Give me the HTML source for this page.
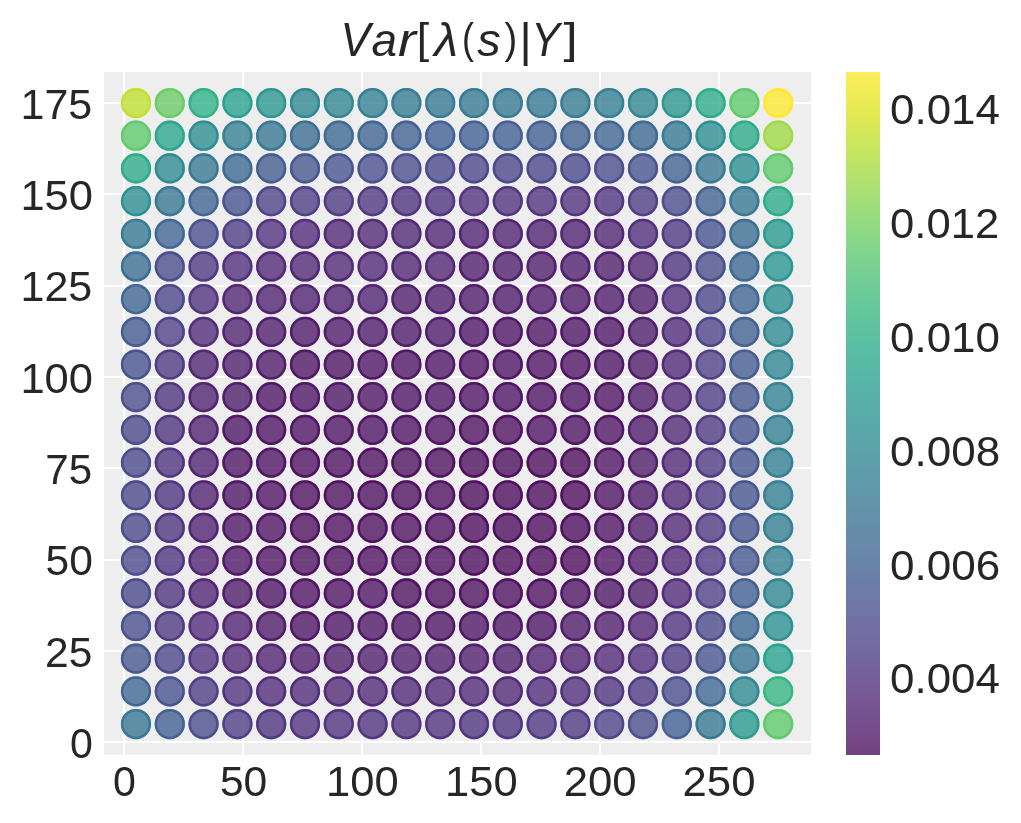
<!DOCTYPE html><html><head><meta charset="utf-8"><style>html,body{margin:0;padding:0;background:#fff;width:1021px;height:823px;overflow:hidden}svg{display:block;will-change:transform}</style></head><body><svg width="1021" height="823" viewBox="0 0 1021 823"><defs><linearGradient id="cb" x1="0" y1="0" x2="0" y2="1"><stop offset="0.0000" stop-color="#fde725"/><stop offset="0.0312" stop-color="#ece51b"/><stop offset="0.0625" stop-color="#d8e219"/><stop offset="0.0938" stop-color="#c2df23"/><stop offset="0.1250" stop-color="#addc30"/><stop offset="0.1562" stop-color="#98d83e"/><stop offset="0.1875" stop-color="#84d44b"/><stop offset="0.2188" stop-color="#70cf57"/><stop offset="0.2500" stop-color="#5ec962"/><stop offset="0.2812" stop-color="#4ec36b"/><stop offset="0.3125" stop-color="#3fbc73"/><stop offset="0.3438" stop-color="#32b67a"/><stop offset="0.3750" stop-color="#28ae80"/><stop offset="0.4062" stop-color="#22a785"/><stop offset="0.4375" stop-color="#1fa088"/><stop offset="0.4688" stop-color="#1f988b"/><stop offset="0.5000" stop-color="#21918c"/><stop offset="0.5312" stop-color="#23898e"/><stop offset="0.5625" stop-color="#26828e"/><stop offset="0.5938" stop-color="#297a8e"/><stop offset="0.6250" stop-color="#2c728e"/><stop offset="0.6562" stop-color="#2f6b8e"/><stop offset="0.6875" stop-color="#33638d"/><stop offset="0.7188" stop-color="#375b8d"/><stop offset="0.7500" stop-color="#3b528b"/><stop offset="0.7812" stop-color="#3e4989"/><stop offset="0.8125" stop-color="#424086"/><stop offset="0.8438" stop-color="#453781"/><stop offset="0.8750" stop-color="#472d7b"/><stop offset="0.9062" stop-color="#482374"/><stop offset="0.9375" stop-color="#48186a"/><stop offset="0.9688" stop-color="#470d60"/><stop offset="1.0000" stop-color="#440154"/></linearGradient></defs><rect x="104" y="72" width="707" height="683" fill="#eeeeee"/><rect x="123" y="72" width="2" height="683" fill="#ffffff"/><rect x="242" y="72" width="2" height="683" fill="#ffffff"/><rect x="361" y="72" width="2" height="683" fill="#ffffff"/><rect x="480" y="72" width="2" height="683" fill="#ffffff"/><rect x="599" y="72" width="2" height="683" fill="#ffffff"/><rect x="718" y="72" width="2" height="683" fill="#ffffff"/><rect x="104" y="741" width="707" height="2" fill="#ffffff"/><rect x="104" y="650" width="707" height="2" fill="#ffffff"/><rect x="104" y="559" width="707" height="2" fill="#ffffff"/><rect x="104" y="467" width="707" height="2" fill="#ffffff"/><rect x="104" y="376" width="707" height="2" fill="#ffffff"/><rect x="104" y="285" width="707" height="2" fill="#ffffff"/><rect x="104" y="193" width="707" height="2" fill="#ffffff"/><rect x="104" y="102" width="707" height="2" fill="#ffffff"/><circle cx="135.99" cy="724.03" r="15.1" fill="#2e6f8e" fill-opacity="0.75"/><circle cx="135.99" cy="724.03" r="13.85" fill="none" stroke="#2e6f8e" stroke-width="2.5" stroke-opacity="0.75"/><circle cx="169.79" cy="724.03" r="15.1" fill="#38588c" fill-opacity="0.75"/><circle cx="169.79" cy="724.03" r="13.85" fill="none" stroke="#38588c" stroke-width="2.5" stroke-opacity="0.75"/><circle cx="203.59" cy="724.03" r="15.1" fill="#414487" fill-opacity="0.75"/><circle cx="203.59" cy="724.03" r="13.85" fill="none" stroke="#414487" stroke-width="2.5" stroke-opacity="0.75"/><circle cx="237.39" cy="724.03" r="15.1" fill="#463480" fill-opacity="0.75"/><circle cx="237.39" cy="724.03" r="13.85" fill="none" stroke="#463480" stroke-width="2.5" stroke-opacity="0.75"/><circle cx="271.19" cy="724.03" r="15.1" fill="#472a7a" fill-opacity="0.75"/><circle cx="271.19" cy="724.03" r="13.85" fill="none" stroke="#472a7a" stroke-width="2.5" stroke-opacity="0.75"/><circle cx="304.99" cy="724.03" r="15.1" fill="#482878" fill-opacity="0.75"/><circle cx="304.99" cy="724.03" r="13.85" fill="none" stroke="#482878" stroke-width="2.5" stroke-opacity="0.75"/><circle cx="338.79" cy="724.03" r="15.1" fill="#482878" fill-opacity="0.75"/><circle cx="338.79" cy="724.03" r="13.85" fill="none" stroke="#482878" stroke-width="2.5" stroke-opacity="0.75"/><circle cx="372.59" cy="724.03" r="15.1" fill="#482878" fill-opacity="0.75"/><circle cx="372.59" cy="724.03" r="13.85" fill="none" stroke="#482878" stroke-width="2.5" stroke-opacity="0.75"/><circle cx="406.39" cy="724.03" r="15.1" fill="#482878" fill-opacity="0.75"/><circle cx="406.39" cy="724.03" r="13.85" fill="none" stroke="#482878" stroke-width="2.5" stroke-opacity="0.75"/><circle cx="440.19" cy="724.03" r="15.1" fill="#482878" fill-opacity="0.75"/><circle cx="440.19" cy="724.03" r="13.85" fill="none" stroke="#482878" stroke-width="2.5" stroke-opacity="0.75"/><circle cx="473.99" cy="724.03" r="15.1" fill="#472a7a" fill-opacity="0.75"/><circle cx="473.99" cy="724.03" r="13.85" fill="none" stroke="#472a7a" stroke-width="2.5" stroke-opacity="0.75"/><circle cx="507.79" cy="724.03" r="15.1" fill="#472a7a" fill-opacity="0.75"/><circle cx="507.79" cy="724.03" r="13.85" fill="none" stroke="#472a7a" stroke-width="2.5" stroke-opacity="0.75"/><circle cx="541.59" cy="724.03" r="15.1" fill="#472e7c" fill-opacity="0.75"/><circle cx="541.59" cy="724.03" r="13.85" fill="none" stroke="#472e7c" stroke-width="2.5" stroke-opacity="0.75"/><circle cx="575.39" cy="724.03" r="15.1" fill="#46307e" fill-opacity="0.75"/><circle cx="575.39" cy="724.03" r="13.85" fill="none" stroke="#46307e" stroke-width="2.5" stroke-opacity="0.75"/><circle cx="609.19" cy="724.03" r="15.1" fill="#443a83" fill-opacity="0.75"/><circle cx="609.19" cy="724.03" r="13.85" fill="none" stroke="#443a83" stroke-width="2.5" stroke-opacity="0.75"/><circle cx="642.99" cy="724.03" r="15.1" fill="#414487" fill-opacity="0.75"/><circle cx="642.99" cy="724.03" r="13.85" fill="none" stroke="#414487" stroke-width="2.5" stroke-opacity="0.75"/><circle cx="676.79" cy="724.03" r="15.1" fill="#38588c" fill-opacity="0.75"/><circle cx="676.79" cy="724.03" r="13.85" fill="none" stroke="#38588c" stroke-width="2.5" stroke-opacity="0.75"/><circle cx="710.59" cy="724.03" r="15.1" fill="#2d718e" fill-opacity="0.75"/><circle cx="710.59" cy="724.03" r="13.85" fill="none" stroke="#2d718e" stroke-width="2.5" stroke-opacity="0.75"/><circle cx="744.39" cy="724.03" r="15.1" fill="#1f958b" fill-opacity="0.75"/><circle cx="744.39" cy="724.03" r="13.85" fill="none" stroke="#1f958b" stroke-width="2.5" stroke-opacity="0.75"/><circle cx="778.19" cy="724.03" r="15.1" fill="#58c765" fill-opacity="0.75"/><circle cx="778.19" cy="724.03" r="13.85" fill="none" stroke="#58c765" stroke-width="2.5" stroke-opacity="0.75"/><circle cx="135.99" cy="691.35" r="15.1" fill="#355f8d" fill-opacity="0.75"/><circle cx="135.99" cy="691.35" r="13.85" fill="none" stroke="#355f8d" stroke-width="2.5" stroke-opacity="0.75"/><circle cx="169.79" cy="691.35" r="15.1" fill="#3e4989" fill-opacity="0.75"/><circle cx="169.79" cy="691.35" r="13.85" fill="none" stroke="#3e4989" stroke-width="2.5" stroke-opacity="0.75"/><circle cx="203.59" cy="691.35" r="15.1" fill="#463480" fill-opacity="0.75"/><circle cx="203.59" cy="691.35" r="13.85" fill="none" stroke="#463480" stroke-width="2.5" stroke-opacity="0.75"/><circle cx="237.39" cy="691.35" r="15.1" fill="#482878" fill-opacity="0.75"/><circle cx="237.39" cy="691.35" r="13.85" fill="none" stroke="#482878" stroke-width="2.5" stroke-opacity="0.75"/><circle cx="271.19" cy="691.35" r="15.1" fill="#482173" fill-opacity="0.75"/><circle cx="271.19" cy="691.35" r="13.85" fill="none" stroke="#482173" stroke-width="2.5" stroke-opacity="0.75"/><circle cx="304.99" cy="691.35" r="15.1" fill="#482173" fill-opacity="0.75"/><circle cx="304.99" cy="691.35" r="13.85" fill="none" stroke="#482173" stroke-width="2.5" stroke-opacity="0.75"/><circle cx="338.79" cy="691.35" r="15.1" fill="#481d6f" fill-opacity="0.75"/><circle cx="338.79" cy="691.35" r="13.85" fill="none" stroke="#481d6f" stroke-width="2.5" stroke-opacity="0.75"/><circle cx="372.59" cy="691.35" r="15.1" fill="#481d6f" fill-opacity="0.75"/><circle cx="372.59" cy="691.35" r="13.85" fill="none" stroke="#481d6f" stroke-width="2.5" stroke-opacity="0.75"/><circle cx="406.39" cy="691.35" r="15.1" fill="#481d6f" fill-opacity="0.75"/><circle cx="406.39" cy="691.35" r="13.85" fill="none" stroke="#481d6f" stroke-width="2.5" stroke-opacity="0.75"/><circle cx="440.19" cy="691.35" r="15.1" fill="#481d6f" fill-opacity="0.75"/><circle cx="440.19" cy="691.35" r="13.85" fill="none" stroke="#481d6f" stroke-width="2.5" stroke-opacity="0.75"/><circle cx="473.99" cy="691.35" r="15.1" fill="#481d6f" fill-opacity="0.75"/><circle cx="473.99" cy="691.35" r="13.85" fill="none" stroke="#481d6f" stroke-width="2.5" stroke-opacity="0.75"/><circle cx="507.79" cy="691.35" r="15.1" fill="#481d6f" fill-opacity="0.75"/><circle cx="507.79" cy="691.35" r="13.85" fill="none" stroke="#481d6f" stroke-width="2.5" stroke-opacity="0.75"/><circle cx="541.59" cy="691.35" r="15.1" fill="#482173" fill-opacity="0.75"/><circle cx="541.59" cy="691.35" r="13.85" fill="none" stroke="#482173" stroke-width="2.5" stroke-opacity="0.75"/><circle cx="575.39" cy="691.35" r="15.1" fill="#482475" fill-opacity="0.75"/><circle cx="575.39" cy="691.35" r="13.85" fill="none" stroke="#482475" stroke-width="2.5" stroke-opacity="0.75"/><circle cx="609.19" cy="691.35" r="15.1" fill="#472a7a" fill-opacity="0.75"/><circle cx="609.19" cy="691.35" r="13.85" fill="none" stroke="#472a7a" stroke-width="2.5" stroke-opacity="0.75"/><circle cx="642.99" cy="691.35" r="15.1" fill="#46307e" fill-opacity="0.75"/><circle cx="642.99" cy="691.35" r="13.85" fill="none" stroke="#46307e" stroke-width="2.5" stroke-opacity="0.75"/><circle cx="676.79" cy="691.35" r="15.1" fill="#414487" fill-opacity="0.75"/><circle cx="676.79" cy="691.35" r="13.85" fill="none" stroke="#414487" stroke-width="2.5" stroke-opacity="0.75"/><circle cx="710.59" cy="691.35" r="15.1" fill="#355f8d" fill-opacity="0.75"/><circle cx="710.59" cy="691.35" r="13.85" fill="none" stroke="#355f8d" stroke-width="2.5" stroke-opacity="0.75"/><circle cx="744.39" cy="691.35" r="15.1" fill="#25848e" fill-opacity="0.75"/><circle cx="744.39" cy="691.35" r="13.85" fill="none" stroke="#25848e" stroke-width="2.5" stroke-opacity="0.75"/><circle cx="778.19" cy="691.35" r="15.1" fill="#2cb17e" fill-opacity="0.75"/><circle cx="778.19" cy="691.35" r="13.85" fill="none" stroke="#2cb17e" stroke-width="2.5" stroke-opacity="0.75"/><circle cx="135.99" cy="658.67" r="15.1" fill="#3c4f8a" fill-opacity="0.75"/><circle cx="135.99" cy="658.67" r="13.85" fill="none" stroke="#3c4f8a" stroke-width="2.5" stroke-opacity="0.75"/><circle cx="169.79" cy="658.67" r="15.1" fill="#433e85" fill-opacity="0.75"/><circle cx="169.79" cy="658.67" r="13.85" fill="none" stroke="#433e85" stroke-width="2.5" stroke-opacity="0.75"/><circle cx="203.59" cy="658.67" r="15.1" fill="#482878" fill-opacity="0.75"/><circle cx="203.59" cy="658.67" r="13.85" fill="none" stroke="#482878" stroke-width="2.5" stroke-opacity="0.75"/><circle cx="237.39" cy="658.67" r="15.1" fill="#481d6f" fill-opacity="0.75"/><circle cx="237.39" cy="658.67" r="13.85" fill="none" stroke="#481d6f" stroke-width="2.5" stroke-opacity="0.75"/><circle cx="271.19" cy="658.67" r="15.1" fill="#481769" fill-opacity="0.75"/><circle cx="271.19" cy="658.67" r="13.85" fill="none" stroke="#481769" stroke-width="2.5" stroke-opacity="0.75"/><circle cx="304.99" cy="658.67" r="15.1" fill="#471365" fill-opacity="0.75"/><circle cx="304.99" cy="658.67" r="13.85" fill="none" stroke="#471365" stroke-width="2.5" stroke-opacity="0.75"/><circle cx="338.79" cy="658.67" r="15.1" fill="#471365" fill-opacity="0.75"/><circle cx="338.79" cy="658.67" r="13.85" fill="none" stroke="#471365" stroke-width="2.5" stroke-opacity="0.75"/><circle cx="372.59" cy="658.67" r="15.1" fill="#471365" fill-opacity="0.75"/><circle cx="372.59" cy="658.67" r="13.85" fill="none" stroke="#471365" stroke-width="2.5" stroke-opacity="0.75"/><circle cx="406.39" cy="658.67" r="15.1" fill="#471365" fill-opacity="0.75"/><circle cx="406.39" cy="658.67" r="13.85" fill="none" stroke="#471365" stroke-width="2.5" stroke-opacity="0.75"/><circle cx="440.19" cy="658.67" r="15.1" fill="#471365" fill-opacity="0.75"/><circle cx="440.19" cy="658.67" r="13.85" fill="none" stroke="#471365" stroke-width="2.5" stroke-opacity="0.75"/><circle cx="473.99" cy="658.67" r="15.1" fill="#471365" fill-opacity="0.75"/><circle cx="473.99" cy="658.67" r="13.85" fill="none" stroke="#471365" stroke-width="2.5" stroke-opacity="0.75"/><circle cx="507.79" cy="658.67" r="15.1" fill="#471365" fill-opacity="0.75"/><circle cx="507.79" cy="658.67" r="13.85" fill="none" stroke="#471365" stroke-width="2.5" stroke-opacity="0.75"/><circle cx="541.59" cy="658.67" r="15.1" fill="#481769" fill-opacity="0.75"/><circle cx="541.59" cy="658.67" r="13.85" fill="none" stroke="#481769" stroke-width="2.5" stroke-opacity="0.75"/><circle cx="575.39" cy="658.67" r="15.1" fill="#481769" fill-opacity="0.75"/><circle cx="575.39" cy="658.67" r="13.85" fill="none" stroke="#481769" stroke-width="2.5" stroke-opacity="0.75"/><circle cx="609.19" cy="658.67" r="15.1" fill="#481d6f" fill-opacity="0.75"/><circle cx="609.19" cy="658.67" r="13.85" fill="none" stroke="#481d6f" stroke-width="2.5" stroke-opacity="0.75"/><circle cx="642.99" cy="658.67" r="15.1" fill="#482475" fill-opacity="0.75"/><circle cx="642.99" cy="658.67" r="13.85" fill="none" stroke="#482475" stroke-width="2.5" stroke-opacity="0.75"/><circle cx="676.79" cy="658.67" r="15.1" fill="#46307e" fill-opacity="0.75"/><circle cx="676.79" cy="658.67" r="13.85" fill="none" stroke="#46307e" stroke-width="2.5" stroke-opacity="0.75"/><circle cx="710.59" cy="658.67" r="15.1" fill="#3e4c8a" fill-opacity="0.75"/><circle cx="710.59" cy="658.67" r="13.85" fill="none" stroke="#3e4c8a" stroke-width="2.5" stroke-opacity="0.75"/><circle cx="744.39" cy="658.67" r="15.1" fill="#2e6f8e" fill-opacity="0.75"/><circle cx="744.39" cy="658.67" r="13.85" fill="none" stroke="#2e6f8e" stroke-width="2.5" stroke-opacity="0.75"/><circle cx="778.19" cy="658.67" r="15.1" fill="#1e9c89" fill-opacity="0.75"/><circle cx="778.19" cy="658.67" r="13.85" fill="none" stroke="#1e9c89" stroke-width="2.5" stroke-opacity="0.75"/><circle cx="135.99" cy="625.98" r="15.1" fill="#404688" fill-opacity="0.75"/><circle cx="135.99" cy="625.98" r="13.85" fill="none" stroke="#404688" stroke-width="2.5" stroke-opacity="0.75"/><circle cx="169.79" cy="625.98" r="15.1" fill="#46307e" fill-opacity="0.75"/><circle cx="169.79" cy="625.98" r="13.85" fill="none" stroke="#46307e" stroke-width="2.5" stroke-opacity="0.75"/><circle cx="203.59" cy="625.98" r="15.1" fill="#482173" fill-opacity="0.75"/><circle cx="203.59" cy="625.98" r="13.85" fill="none" stroke="#482173" stroke-width="2.5" stroke-opacity="0.75"/><circle cx="237.39" cy="625.98" r="15.1" fill="#481769" fill-opacity="0.75"/><circle cx="237.39" cy="625.98" r="13.85" fill="none" stroke="#481769" stroke-width="2.5" stroke-opacity="0.75"/><circle cx="271.19" cy="625.98" r="15.1" fill="#471063" fill-opacity="0.75"/><circle cx="271.19" cy="625.98" r="13.85" fill="none" stroke="#471063" stroke-width="2.5" stroke-opacity="0.75"/><circle cx="304.99" cy="625.98" r="15.1" fill="#460b5e" fill-opacity="0.75"/><circle cx="304.99" cy="625.98" r="13.85" fill="none" stroke="#460b5e" stroke-width="2.5" stroke-opacity="0.75"/><circle cx="338.79" cy="625.98" r="15.1" fill="#460b5e" fill-opacity="0.75"/><circle cx="338.79" cy="625.98" r="13.85" fill="none" stroke="#460b5e" stroke-width="2.5" stroke-opacity="0.75"/><circle cx="372.59" cy="625.98" r="15.1" fill="#460b5e" fill-opacity="0.75"/><circle cx="372.59" cy="625.98" r="13.85" fill="none" stroke="#460b5e" stroke-width="2.5" stroke-opacity="0.75"/><circle cx="406.39" cy="625.98" r="15.1" fill="#460b5e" fill-opacity="0.75"/><circle cx="406.39" cy="625.98" r="13.85" fill="none" stroke="#460b5e" stroke-width="2.5" stroke-opacity="0.75"/><circle cx="440.19" cy="625.98" r="15.1" fill="#460b5e" fill-opacity="0.75"/><circle cx="440.19" cy="625.98" r="13.85" fill="none" stroke="#460b5e" stroke-width="2.5" stroke-opacity="0.75"/><circle cx="473.99" cy="625.98" r="15.1" fill="#460b5e" fill-opacity="0.75"/><circle cx="473.99" cy="625.98" r="13.85" fill="none" stroke="#460b5e" stroke-width="2.5" stroke-opacity="0.75"/><circle cx="507.79" cy="625.98" r="15.1" fill="#460b5e" fill-opacity="0.75"/><circle cx="507.79" cy="625.98" r="13.85" fill="none" stroke="#460b5e" stroke-width="2.5" stroke-opacity="0.75"/><circle cx="541.59" cy="625.98" r="15.1" fill="#460b5e" fill-opacity="0.75"/><circle cx="541.59" cy="625.98" r="13.85" fill="none" stroke="#460b5e" stroke-width="2.5" stroke-opacity="0.75"/><circle cx="575.39" cy="625.98" r="15.1" fill="#471063" fill-opacity="0.75"/><circle cx="575.39" cy="625.98" r="13.85" fill="none" stroke="#471063" stroke-width="2.5" stroke-opacity="0.75"/><circle cx="609.19" cy="625.98" r="15.1" fill="#471365" fill-opacity="0.75"/><circle cx="609.19" cy="625.98" r="13.85" fill="none" stroke="#471365" stroke-width="2.5" stroke-opacity="0.75"/><circle cx="642.99" cy="625.98" r="15.1" fill="#481a6c" fill-opacity="0.75"/><circle cx="642.99" cy="625.98" r="13.85" fill="none" stroke="#481a6c" stroke-width="2.5" stroke-opacity="0.75"/><circle cx="676.79" cy="625.98" r="15.1" fill="#482878" fill-opacity="0.75"/><circle cx="676.79" cy="625.98" r="13.85" fill="none" stroke="#482878" stroke-width="2.5" stroke-opacity="0.75"/><circle cx="710.59" cy="625.98" r="15.1" fill="#424086" fill-opacity="0.75"/><circle cx="710.59" cy="625.98" r="13.85" fill="none" stroke="#424086" stroke-width="2.5" stroke-opacity="0.75"/><circle cx="744.39" cy="625.98" r="15.1" fill="#33628d" fill-opacity="0.75"/><circle cx="744.39" cy="625.98" r="13.85" fill="none" stroke="#33628d" stroke-width="2.5" stroke-opacity="0.75"/><circle cx="778.19" cy="625.98" r="15.1" fill="#228b8d" fill-opacity="0.75"/><circle cx="778.19" cy="625.98" r="13.85" fill="none" stroke="#228b8d" stroke-width="2.5" stroke-opacity="0.75"/><circle cx="135.99" cy="593.30" r="15.1" fill="#424086" fill-opacity="0.75"/><circle cx="135.99" cy="593.30" r="13.85" fill="none" stroke="#424086" stroke-width="2.5" stroke-opacity="0.75"/><circle cx="169.79" cy="593.30" r="15.1" fill="#472a7a" fill-opacity="0.75"/><circle cx="169.79" cy="593.30" r="13.85" fill="none" stroke="#472a7a" stroke-width="2.5" stroke-opacity="0.75"/><circle cx="203.59" cy="593.30" r="15.1" fill="#481a6c" fill-opacity="0.75"/><circle cx="203.59" cy="593.30" r="13.85" fill="none" stroke="#481a6c" stroke-width="2.5" stroke-opacity="0.75"/><circle cx="237.39" cy="593.30" r="15.1" fill="#471063" fill-opacity="0.75"/><circle cx="237.39" cy="593.30" r="13.85" fill="none" stroke="#471063" stroke-width="2.5" stroke-opacity="0.75"/><circle cx="271.19" cy="593.30" r="15.1" fill="#460b5e" fill-opacity="0.75"/><circle cx="271.19" cy="593.30" r="13.85" fill="none" stroke="#460b5e" stroke-width="2.5" stroke-opacity="0.75"/><circle cx="304.99" cy="593.30" r="15.1" fill="#46085c" fill-opacity="0.75"/><circle cx="304.99" cy="593.30" r="13.85" fill="none" stroke="#46085c" stroke-width="2.5" stroke-opacity="0.75"/><circle cx="338.79" cy="593.30" r="15.1" fill="#46085c" fill-opacity="0.75"/><circle cx="338.79" cy="593.30" r="13.85" fill="none" stroke="#46085c" stroke-width="2.5" stroke-opacity="0.75"/><circle cx="372.59" cy="593.30" r="15.1" fill="#46085c" fill-opacity="0.75"/><circle cx="372.59" cy="593.30" r="13.85" fill="none" stroke="#46085c" stroke-width="2.5" stroke-opacity="0.75"/><circle cx="406.39" cy="593.30" r="15.1" fill="#450457" fill-opacity="0.75"/><circle cx="406.39" cy="593.30" r="13.85" fill="none" stroke="#450457" stroke-width="2.5" stroke-opacity="0.75"/><circle cx="440.19" cy="593.30" r="15.1" fill="#450457" fill-opacity="0.75"/><circle cx="440.19" cy="593.30" r="13.85" fill="none" stroke="#450457" stroke-width="2.5" stroke-opacity="0.75"/><circle cx="473.99" cy="593.30" r="15.1" fill="#450457" fill-opacity="0.75"/><circle cx="473.99" cy="593.30" r="13.85" fill="none" stroke="#450457" stroke-width="2.5" stroke-opacity="0.75"/><circle cx="507.79" cy="593.30" r="15.1" fill="#450457" fill-opacity="0.75"/><circle cx="507.79" cy="593.30" r="13.85" fill="none" stroke="#450457" stroke-width="2.5" stroke-opacity="0.75"/><circle cx="541.59" cy="593.30" r="15.1" fill="#450457" fill-opacity="0.75"/><circle cx="541.59" cy="593.30" r="13.85" fill="none" stroke="#450457" stroke-width="2.5" stroke-opacity="0.75"/><circle cx="575.39" cy="593.30" r="15.1" fill="#46085c" fill-opacity="0.75"/><circle cx="575.39" cy="593.30" r="13.85" fill="none" stroke="#46085c" stroke-width="2.5" stroke-opacity="0.75"/><circle cx="609.19" cy="593.30" r="15.1" fill="#460b5e" fill-opacity="0.75"/><circle cx="609.19" cy="593.30" r="13.85" fill="none" stroke="#460b5e" stroke-width="2.5" stroke-opacity="0.75"/><circle cx="642.99" cy="593.30" r="15.1" fill="#471365" fill-opacity="0.75"/><circle cx="642.99" cy="593.30" r="13.85" fill="none" stroke="#471365" stroke-width="2.5" stroke-opacity="0.75"/><circle cx="676.79" cy="593.30" r="15.1" fill="#482173" fill-opacity="0.75"/><circle cx="676.79" cy="593.30" r="13.85" fill="none" stroke="#482173" stroke-width="2.5" stroke-opacity="0.75"/><circle cx="710.59" cy="593.30" r="15.1" fill="#453781" fill-opacity="0.75"/><circle cx="710.59" cy="593.30" r="13.85" fill="none" stroke="#453781" stroke-width="2.5" stroke-opacity="0.75"/><circle cx="744.39" cy="593.30" r="15.1" fill="#38588c" fill-opacity="0.75"/><circle cx="744.39" cy="593.30" r="13.85" fill="none" stroke="#38588c" stroke-width="2.5" stroke-opacity="0.75"/><circle cx="778.19" cy="593.30" r="15.1" fill="#27808e" fill-opacity="0.75"/><circle cx="778.19" cy="593.30" r="13.85" fill="none" stroke="#27808e" stroke-width="2.5" stroke-opacity="0.75"/><circle cx="135.99" cy="560.61" r="15.1" fill="#424086" fill-opacity="0.75"/><circle cx="135.99" cy="560.61" r="13.85" fill="none" stroke="#424086" stroke-width="2.5" stroke-opacity="0.75"/><circle cx="169.79" cy="560.61" r="15.1" fill="#472a7a" fill-opacity="0.75"/><circle cx="169.79" cy="560.61" r="13.85" fill="none" stroke="#472a7a" stroke-width="2.5" stroke-opacity="0.75"/><circle cx="203.59" cy="560.61" r="15.1" fill="#481769" fill-opacity="0.75"/><circle cx="203.59" cy="560.61" r="13.85" fill="none" stroke="#481769" stroke-width="2.5" stroke-opacity="0.75"/><circle cx="237.39" cy="560.61" r="15.1" fill="#460b5e" fill-opacity="0.75"/><circle cx="237.39" cy="560.61" r="13.85" fill="none" stroke="#460b5e" stroke-width="2.5" stroke-opacity="0.75"/><circle cx="271.19" cy="560.61" r="15.1" fill="#46085c" fill-opacity="0.75"/><circle cx="271.19" cy="560.61" r="13.85" fill="none" stroke="#46085c" stroke-width="2.5" stroke-opacity="0.75"/><circle cx="304.99" cy="560.61" r="15.1" fill="#450457" fill-opacity="0.75"/><circle cx="304.99" cy="560.61" r="13.85" fill="none" stroke="#450457" stroke-width="2.5" stroke-opacity="0.75"/><circle cx="338.79" cy="560.61" r="15.1" fill="#450457" fill-opacity="0.75"/><circle cx="338.79" cy="560.61" r="13.85" fill="none" stroke="#450457" stroke-width="2.5" stroke-opacity="0.75"/><circle cx="372.59" cy="560.61" r="15.1" fill="#450457" fill-opacity="0.75"/><circle cx="372.59" cy="560.61" r="13.85" fill="none" stroke="#450457" stroke-width="2.5" stroke-opacity="0.75"/><circle cx="406.39" cy="560.61" r="15.1" fill="#450457" fill-opacity="0.75"/><circle cx="406.39" cy="560.61" r="13.85" fill="none" stroke="#450457" stroke-width="2.5" stroke-opacity="0.75"/><circle cx="440.19" cy="560.61" r="15.1" fill="#450457" fill-opacity="0.75"/><circle cx="440.19" cy="560.61" r="13.85" fill="none" stroke="#450457" stroke-width="2.5" stroke-opacity="0.75"/><circle cx="473.99" cy="560.61" r="15.1" fill="#440154" fill-opacity="0.75"/><circle cx="473.99" cy="560.61" r="13.85" fill="none" stroke="#440154" stroke-width="2.5" stroke-opacity="0.75"/><circle cx="507.79" cy="560.61" r="15.1" fill="#440154" fill-opacity="0.75"/><circle cx="507.79" cy="560.61" r="13.85" fill="none" stroke="#440154" stroke-width="2.5" stroke-opacity="0.75"/><circle cx="541.59" cy="560.61" r="15.1" fill="#440154" fill-opacity="0.75"/><circle cx="541.59" cy="560.61" r="13.85" fill="none" stroke="#440154" stroke-width="2.5" stroke-opacity="0.75"/><circle cx="575.39" cy="560.61" r="15.1" fill="#440154" fill-opacity="0.75"/><circle cx="575.39" cy="560.61" r="13.85" fill="none" stroke="#440154" stroke-width="2.5" stroke-opacity="0.75"/><circle cx="609.19" cy="560.61" r="15.1" fill="#46085c" fill-opacity="0.75"/><circle cx="609.19" cy="560.61" r="13.85" fill="none" stroke="#46085c" stroke-width="2.5" stroke-opacity="0.75"/><circle cx="642.99" cy="560.61" r="15.1" fill="#471063" fill-opacity="0.75"/><circle cx="642.99" cy="560.61" r="13.85" fill="none" stroke="#471063" stroke-width="2.5" stroke-opacity="0.75"/><circle cx="676.79" cy="560.61" r="15.1" fill="#481d6f" fill-opacity="0.75"/><circle cx="676.79" cy="560.61" r="13.85" fill="none" stroke="#481d6f" stroke-width="2.5" stroke-opacity="0.75"/><circle cx="710.59" cy="560.61" r="15.1" fill="#46307e" fill-opacity="0.75"/><circle cx="710.59" cy="560.61" r="13.85" fill="none" stroke="#46307e" stroke-width="2.5" stroke-opacity="0.75"/><circle cx="744.39" cy="560.61" r="15.1" fill="#3c4f8a" fill-opacity="0.75"/><circle cx="744.39" cy="560.61" r="13.85" fill="none" stroke="#3c4f8a" stroke-width="2.5" stroke-opacity="0.75"/><circle cx="778.19" cy="560.61" r="15.1" fill="#297a8e" fill-opacity="0.75"/><circle cx="778.19" cy="560.61" r="13.85" fill="none" stroke="#297a8e" stroke-width="2.5" stroke-opacity="0.75"/><circle cx="135.99" cy="527.93" r="15.1" fill="#424086" fill-opacity="0.75"/><circle cx="135.99" cy="527.93" r="13.85" fill="none" stroke="#424086" stroke-width="2.5" stroke-opacity="0.75"/><circle cx="169.79" cy="527.93" r="15.1" fill="#472a7a" fill-opacity="0.75"/><circle cx="169.79" cy="527.93" r="13.85" fill="none" stroke="#472a7a" stroke-width="2.5" stroke-opacity="0.75"/><circle cx="203.59" cy="527.93" r="15.1" fill="#481769" fill-opacity="0.75"/><circle cx="203.59" cy="527.93" r="13.85" fill="none" stroke="#481769" stroke-width="2.5" stroke-opacity="0.75"/><circle cx="237.39" cy="527.93" r="15.1" fill="#460b5e" fill-opacity="0.75"/><circle cx="237.39" cy="527.93" r="13.85" fill="none" stroke="#460b5e" stroke-width="2.5" stroke-opacity="0.75"/><circle cx="271.19" cy="527.93" r="15.1" fill="#46085c" fill-opacity="0.75"/><circle cx="271.19" cy="527.93" r="13.85" fill="none" stroke="#46085c" stroke-width="2.5" stroke-opacity="0.75"/><circle cx="304.99" cy="527.93" r="15.1" fill="#450457" fill-opacity="0.75"/><circle cx="304.99" cy="527.93" r="13.85" fill="none" stroke="#450457" stroke-width="2.5" stroke-opacity="0.75"/><circle cx="338.79" cy="527.93" r="15.1" fill="#450457" fill-opacity="0.75"/><circle cx="338.79" cy="527.93" r="13.85" fill="none" stroke="#450457" stroke-width="2.5" stroke-opacity="0.75"/><circle cx="372.59" cy="527.93" r="15.1" fill="#450457" fill-opacity="0.75"/><circle cx="372.59" cy="527.93" r="13.85" fill="none" stroke="#450457" stroke-width="2.5" stroke-opacity="0.75"/><circle cx="406.39" cy="527.93" r="15.1" fill="#450457" fill-opacity="0.75"/><circle cx="406.39" cy="527.93" r="13.85" fill="none" stroke="#450457" stroke-width="2.5" stroke-opacity="0.75"/><circle cx="440.19" cy="527.93" r="15.1" fill="#450457" fill-opacity="0.75"/><circle cx="440.19" cy="527.93" r="13.85" fill="none" stroke="#450457" stroke-width="2.5" stroke-opacity="0.75"/><circle cx="473.99" cy="527.93" r="15.1" fill="#440154" fill-opacity="0.75"/><circle cx="473.99" cy="527.93" r="13.85" fill="none" stroke="#440154" stroke-width="2.5" stroke-opacity="0.75"/><circle cx="507.79" cy="527.93" r="15.1" fill="#440154" fill-opacity="0.75"/><circle cx="507.79" cy="527.93" r="13.85" fill="none" stroke="#440154" stroke-width="2.5" stroke-opacity="0.75"/><circle cx="541.59" cy="527.93" r="15.1" fill="#440154" fill-opacity="0.75"/><circle cx="541.59" cy="527.93" r="13.85" fill="none" stroke="#440154" stroke-width="2.5" stroke-opacity="0.75"/><circle cx="575.39" cy="527.93" r="15.1" fill="#440154" fill-opacity="0.75"/><circle cx="575.39" cy="527.93" r="13.85" fill="none" stroke="#440154" stroke-width="2.5" stroke-opacity="0.75"/><circle cx="609.19" cy="527.93" r="15.1" fill="#46085c" fill-opacity="0.75"/><circle cx="609.19" cy="527.93" r="13.85" fill="none" stroke="#46085c" stroke-width="2.5" stroke-opacity="0.75"/><circle cx="642.99" cy="527.93" r="15.1" fill="#471063" fill-opacity="0.75"/><circle cx="642.99" cy="527.93" r="13.85" fill="none" stroke="#471063" stroke-width="2.5" stroke-opacity="0.75"/><circle cx="676.79" cy="527.93" r="15.1" fill="#481d6f" fill-opacity="0.75"/><circle cx="676.79" cy="527.93" r="13.85" fill="none" stroke="#481d6f" stroke-width="2.5" stroke-opacity="0.75"/><circle cx="710.59" cy="527.93" r="15.1" fill="#46307e" fill-opacity="0.75"/><circle cx="710.59" cy="527.93" r="13.85" fill="none" stroke="#46307e" stroke-width="2.5" stroke-opacity="0.75"/><circle cx="744.39" cy="527.93" r="15.1" fill="#3e4c8a" fill-opacity="0.75"/><circle cx="744.39" cy="527.93" r="13.85" fill="none" stroke="#3e4c8a" stroke-width="2.5" stroke-opacity="0.75"/><circle cx="778.19" cy="527.93" r="15.1" fill="#2a788e" fill-opacity="0.75"/><circle cx="778.19" cy="527.93" r="13.85" fill="none" stroke="#2a788e" stroke-width="2.5" stroke-opacity="0.75"/><circle cx="135.99" cy="495.24" r="15.1" fill="#424086" fill-opacity="0.75"/><circle cx="135.99" cy="495.24" r="13.85" fill="none" stroke="#424086" stroke-width="2.5" stroke-opacity="0.75"/><circle cx="169.79" cy="495.24" r="15.1" fill="#472a7a" fill-opacity="0.75"/><circle cx="169.79" cy="495.24" r="13.85" fill="none" stroke="#472a7a" stroke-width="2.5" stroke-opacity="0.75"/><circle cx="203.59" cy="495.24" r="15.1" fill="#481769" fill-opacity="0.75"/><circle cx="203.59" cy="495.24" r="13.85" fill="none" stroke="#481769" stroke-width="2.5" stroke-opacity="0.75"/><circle cx="237.39" cy="495.24" r="15.1" fill="#460b5e" fill-opacity="0.75"/><circle cx="237.39" cy="495.24" r="13.85" fill="none" stroke="#460b5e" stroke-width="2.5" stroke-opacity="0.75"/><circle cx="271.19" cy="495.24" r="15.1" fill="#46085c" fill-opacity="0.75"/><circle cx="271.19" cy="495.24" r="13.85" fill="none" stroke="#46085c" stroke-width="2.5" stroke-opacity="0.75"/><circle cx="304.99" cy="495.24" r="15.1" fill="#450457" fill-opacity="0.75"/><circle cx="304.99" cy="495.24" r="13.85" fill="none" stroke="#450457" stroke-width="2.5" stroke-opacity="0.75"/><circle cx="338.79" cy="495.24" r="15.1" fill="#450457" fill-opacity="0.75"/><circle cx="338.79" cy="495.24" r="13.85" fill="none" stroke="#450457" stroke-width="2.5" stroke-opacity="0.75"/><circle cx="372.59" cy="495.24" r="15.1" fill="#450457" fill-opacity="0.75"/><circle cx="372.59" cy="495.24" r="13.85" fill="none" stroke="#450457" stroke-width="2.5" stroke-opacity="0.75"/><circle cx="406.39" cy="495.24" r="15.1" fill="#450457" fill-opacity="0.75"/><circle cx="406.39" cy="495.24" r="13.85" fill="none" stroke="#450457" stroke-width="2.5" stroke-opacity="0.75"/><circle cx="440.19" cy="495.24" r="15.1" fill="#450457" fill-opacity="0.75"/><circle cx="440.19" cy="495.24" r="13.85" fill="none" stroke="#450457" stroke-width="2.5" stroke-opacity="0.75"/><circle cx="473.99" cy="495.24" r="15.1" fill="#440154" fill-opacity="0.75"/><circle cx="473.99" cy="495.24" r="13.85" fill="none" stroke="#440154" stroke-width="2.5" stroke-opacity="0.75"/><circle cx="507.79" cy="495.24" r="15.1" fill="#440154" fill-opacity="0.75"/><circle cx="507.79" cy="495.24" r="13.85" fill="none" stroke="#440154" stroke-width="2.5" stroke-opacity="0.75"/><circle cx="541.59" cy="495.24" r="15.1" fill="#440154" fill-opacity="0.75"/><circle cx="541.59" cy="495.24" r="13.85" fill="none" stroke="#440154" stroke-width="2.5" stroke-opacity="0.75"/><circle cx="575.39" cy="495.24" r="15.1" fill="#440154" fill-opacity="0.75"/><circle cx="575.39" cy="495.24" r="13.85" fill="none" stroke="#440154" stroke-width="2.5" stroke-opacity="0.75"/><circle cx="609.19" cy="495.24" r="15.1" fill="#46085c" fill-opacity="0.75"/><circle cx="609.19" cy="495.24" r="13.85" fill="none" stroke="#46085c" stroke-width="2.5" stroke-opacity="0.75"/><circle cx="642.99" cy="495.24" r="15.1" fill="#471063" fill-opacity="0.75"/><circle cx="642.99" cy="495.24" r="13.85" fill="none" stroke="#471063" stroke-width="2.5" stroke-opacity="0.75"/><circle cx="676.79" cy="495.24" r="15.1" fill="#481d6f" fill-opacity="0.75"/><circle cx="676.79" cy="495.24" r="13.85" fill="none" stroke="#481d6f" stroke-width="2.5" stroke-opacity="0.75"/><circle cx="710.59" cy="495.24" r="15.1" fill="#46307e" fill-opacity="0.75"/><circle cx="710.59" cy="495.24" r="13.85" fill="none" stroke="#46307e" stroke-width="2.5" stroke-opacity="0.75"/><circle cx="744.39" cy="495.24" r="15.1" fill="#3e4c8a" fill-opacity="0.75"/><circle cx="744.39" cy="495.24" r="13.85" fill="none" stroke="#3e4c8a" stroke-width="2.5" stroke-opacity="0.75"/><circle cx="778.19" cy="495.24" r="15.1" fill="#2a788e" fill-opacity="0.75"/><circle cx="778.19" cy="495.24" r="13.85" fill="none" stroke="#2a788e" stroke-width="2.5" stroke-opacity="0.75"/><circle cx="135.99" cy="462.56" r="15.1" fill="#424086" fill-opacity="0.75"/><circle cx="135.99" cy="462.56" r="13.85" fill="none" stroke="#424086" stroke-width="2.5" stroke-opacity="0.75"/><circle cx="169.79" cy="462.56" r="15.1" fill="#472a7a" fill-opacity="0.75"/><circle cx="169.79" cy="462.56" r="13.85" fill="none" stroke="#472a7a" stroke-width="2.5" stroke-opacity="0.75"/><circle cx="203.59" cy="462.56" r="15.1" fill="#481769" fill-opacity="0.75"/><circle cx="203.59" cy="462.56" r="13.85" fill="none" stroke="#481769" stroke-width="2.5" stroke-opacity="0.75"/><circle cx="237.39" cy="462.56" r="15.1" fill="#460b5e" fill-opacity="0.75"/><circle cx="237.39" cy="462.56" r="13.85" fill="none" stroke="#460b5e" stroke-width="2.5" stroke-opacity="0.75"/><circle cx="271.19" cy="462.56" r="15.1" fill="#46085c" fill-opacity="0.75"/><circle cx="271.19" cy="462.56" r="13.85" fill="none" stroke="#46085c" stroke-width="2.5" stroke-opacity="0.75"/><circle cx="304.99" cy="462.56" r="15.1" fill="#450457" fill-opacity="0.75"/><circle cx="304.99" cy="462.56" r="13.85" fill="none" stroke="#450457" stroke-width="2.5" stroke-opacity="0.75"/><circle cx="338.79" cy="462.56" r="15.1" fill="#450457" fill-opacity="0.75"/><circle cx="338.79" cy="462.56" r="13.85" fill="none" stroke="#450457" stroke-width="2.5" stroke-opacity="0.75"/><circle cx="372.59" cy="462.56" r="15.1" fill="#450457" fill-opacity="0.75"/><circle cx="372.59" cy="462.56" r="13.85" fill="none" stroke="#450457" stroke-width="2.5" stroke-opacity="0.75"/><circle cx="406.39" cy="462.56" r="15.1" fill="#450457" fill-opacity="0.75"/><circle cx="406.39" cy="462.56" r="13.85" fill="none" stroke="#450457" stroke-width="2.5" stroke-opacity="0.75"/><circle cx="440.19" cy="462.56" r="15.1" fill="#450457" fill-opacity="0.75"/><circle cx="440.19" cy="462.56" r="13.85" fill="none" stroke="#450457" stroke-width="2.5" stroke-opacity="0.75"/><circle cx="473.99" cy="462.56" r="15.1" fill="#440154" fill-opacity="0.75"/><circle cx="473.99" cy="462.56" r="13.85" fill="none" stroke="#440154" stroke-width="2.5" stroke-opacity="0.75"/><circle cx="507.79" cy="462.56" r="15.1" fill="#440154" fill-opacity="0.75"/><circle cx="507.79" cy="462.56" r="13.85" fill="none" stroke="#440154" stroke-width="2.5" stroke-opacity="0.75"/><circle cx="541.59" cy="462.56" r="15.1" fill="#440154" fill-opacity="0.75"/><circle cx="541.59" cy="462.56" r="13.85" fill="none" stroke="#440154" stroke-width="2.5" stroke-opacity="0.75"/><circle cx="575.39" cy="462.56" r="15.1" fill="#440154" fill-opacity="0.75"/><circle cx="575.39" cy="462.56" r="13.85" fill="none" stroke="#440154" stroke-width="2.5" stroke-opacity="0.75"/><circle cx="609.19" cy="462.56" r="15.1" fill="#46085c" fill-opacity="0.75"/><circle cx="609.19" cy="462.56" r="13.85" fill="none" stroke="#46085c" stroke-width="2.5" stroke-opacity="0.75"/><circle cx="642.99" cy="462.56" r="15.1" fill="#471063" fill-opacity="0.75"/><circle cx="642.99" cy="462.56" r="13.85" fill="none" stroke="#471063" stroke-width="2.5" stroke-opacity="0.75"/><circle cx="676.79" cy="462.56" r="15.1" fill="#481d6f" fill-opacity="0.75"/><circle cx="676.79" cy="462.56" r="13.85" fill="none" stroke="#481d6f" stroke-width="2.5" stroke-opacity="0.75"/><circle cx="710.59" cy="462.56" r="15.1" fill="#46307e" fill-opacity="0.75"/><circle cx="710.59" cy="462.56" r="13.85" fill="none" stroke="#46307e" stroke-width="2.5" stroke-opacity="0.75"/><circle cx="744.39" cy="462.56" r="15.1" fill="#3e4c8a" fill-opacity="0.75"/><circle cx="744.39" cy="462.56" r="13.85" fill="none" stroke="#3e4c8a" stroke-width="2.5" stroke-opacity="0.75"/><circle cx="778.19" cy="462.56" r="15.1" fill="#2a788e" fill-opacity="0.75"/><circle cx="778.19" cy="462.56" r="13.85" fill="none" stroke="#2a788e" stroke-width="2.5" stroke-opacity="0.75"/><circle cx="135.99" cy="429.87" r="15.1" fill="#424086" fill-opacity="0.75"/><circle cx="135.99" cy="429.87" r="13.85" fill="none" stroke="#424086" stroke-width="2.5" stroke-opacity="0.75"/><circle cx="169.79" cy="429.87" r="15.1" fill="#472a7a" fill-opacity="0.75"/><circle cx="169.79" cy="429.87" r="13.85" fill="none" stroke="#472a7a" stroke-width="2.5" stroke-opacity="0.75"/><circle cx="203.59" cy="429.87" r="15.1" fill="#481769" fill-opacity="0.75"/><circle cx="203.59" cy="429.87" r="13.85" fill="none" stroke="#481769" stroke-width="2.5" stroke-opacity="0.75"/><circle cx="237.39" cy="429.87" r="15.1" fill="#460b5e" fill-opacity="0.75"/><circle cx="237.39" cy="429.87" r="13.85" fill="none" stroke="#460b5e" stroke-width="2.5" stroke-opacity="0.75"/><circle cx="271.19" cy="429.87" r="15.1" fill="#46085c" fill-opacity="0.75"/><circle cx="271.19" cy="429.87" r="13.85" fill="none" stroke="#46085c" stroke-width="2.5" stroke-opacity="0.75"/><circle cx="304.99" cy="429.87" r="15.1" fill="#46085c" fill-opacity="0.75"/><circle cx="304.99" cy="429.87" r="13.85" fill="none" stroke="#46085c" stroke-width="2.5" stroke-opacity="0.75"/><circle cx="338.79" cy="429.87" r="15.1" fill="#46085c" fill-opacity="0.75"/><circle cx="338.79" cy="429.87" r="13.85" fill="none" stroke="#46085c" stroke-width="2.5" stroke-opacity="0.75"/><circle cx="372.59" cy="429.87" r="15.1" fill="#46085c" fill-opacity="0.75"/><circle cx="372.59" cy="429.87" r="13.85" fill="none" stroke="#46085c" stroke-width="2.5" stroke-opacity="0.75"/><circle cx="406.39" cy="429.87" r="15.1" fill="#46085c" fill-opacity="0.75"/><circle cx="406.39" cy="429.87" r="13.85" fill="none" stroke="#46085c" stroke-width="2.5" stroke-opacity="0.75"/><circle cx="440.19" cy="429.87" r="15.1" fill="#46085c" fill-opacity="0.75"/><circle cx="440.19" cy="429.87" r="13.85" fill="none" stroke="#46085c" stroke-width="2.5" stroke-opacity="0.75"/><circle cx="473.99" cy="429.87" r="15.1" fill="#450457" fill-opacity="0.75"/><circle cx="473.99" cy="429.87" r="13.85" fill="none" stroke="#450457" stroke-width="2.5" stroke-opacity="0.75"/><circle cx="507.79" cy="429.87" r="15.1" fill="#450457" fill-opacity="0.75"/><circle cx="507.79" cy="429.87" r="13.85" fill="none" stroke="#450457" stroke-width="2.5" stroke-opacity="0.75"/><circle cx="541.59" cy="429.87" r="15.1" fill="#46085c" fill-opacity="0.75"/><circle cx="541.59" cy="429.87" r="13.85" fill="none" stroke="#46085c" stroke-width="2.5" stroke-opacity="0.75"/><circle cx="575.39" cy="429.87" r="15.1" fill="#46085c" fill-opacity="0.75"/><circle cx="575.39" cy="429.87" r="13.85" fill="none" stroke="#46085c" stroke-width="2.5" stroke-opacity="0.75"/><circle cx="609.19" cy="429.87" r="15.1" fill="#46085c" fill-opacity="0.75"/><circle cx="609.19" cy="429.87" r="13.85" fill="none" stroke="#46085c" stroke-width="2.5" stroke-opacity="0.75"/><circle cx="642.99" cy="429.87" r="15.1" fill="#471063" fill-opacity="0.75"/><circle cx="642.99" cy="429.87" r="13.85" fill="none" stroke="#471063" stroke-width="2.5" stroke-opacity="0.75"/><circle cx="676.79" cy="429.87" r="15.1" fill="#481d6f" fill-opacity="0.75"/><circle cx="676.79" cy="429.87" r="13.85" fill="none" stroke="#481d6f" stroke-width="2.5" stroke-opacity="0.75"/><circle cx="710.59" cy="429.87" r="15.1" fill="#46307e" fill-opacity="0.75"/><circle cx="710.59" cy="429.87" r="13.85" fill="none" stroke="#46307e" stroke-width="2.5" stroke-opacity="0.75"/><circle cx="744.39" cy="429.87" r="15.1" fill="#3e4c8a" fill-opacity="0.75"/><circle cx="744.39" cy="429.87" r="13.85" fill="none" stroke="#3e4c8a" stroke-width="2.5" stroke-opacity="0.75"/><circle cx="778.19" cy="429.87" r="15.1" fill="#2a788e" fill-opacity="0.75"/><circle cx="778.19" cy="429.87" r="13.85" fill="none" stroke="#2a788e" stroke-width="2.5" stroke-opacity="0.75"/><circle cx="135.99" cy="397.19" r="15.1" fill="#414487" fill-opacity="0.75"/><circle cx="135.99" cy="397.19" r="13.85" fill="none" stroke="#414487" stroke-width="2.5" stroke-opacity="0.75"/><circle cx="169.79" cy="397.19" r="15.1" fill="#472a7a" fill-opacity="0.75"/><circle cx="169.79" cy="397.19" r="13.85" fill="none" stroke="#472a7a" stroke-width="2.5" stroke-opacity="0.75"/><circle cx="203.59" cy="397.19" r="15.1" fill="#481769" fill-opacity="0.75"/><circle cx="203.59" cy="397.19" r="13.85" fill="none" stroke="#481769" stroke-width="2.5" stroke-opacity="0.75"/><circle cx="237.39" cy="397.19" r="15.1" fill="#471063" fill-opacity="0.75"/><circle cx="237.39" cy="397.19" r="13.85" fill="none" stroke="#471063" stroke-width="2.5" stroke-opacity="0.75"/><circle cx="271.19" cy="397.19" r="15.1" fill="#460b5e" fill-opacity="0.75"/><circle cx="271.19" cy="397.19" r="13.85" fill="none" stroke="#460b5e" stroke-width="2.5" stroke-opacity="0.75"/><circle cx="304.99" cy="397.19" r="15.1" fill="#460b5e" fill-opacity="0.75"/><circle cx="304.99" cy="397.19" r="13.85" fill="none" stroke="#460b5e" stroke-width="2.5" stroke-opacity="0.75"/><circle cx="338.79" cy="397.19" r="15.1" fill="#460b5e" fill-opacity="0.75"/><circle cx="338.79" cy="397.19" r="13.85" fill="none" stroke="#460b5e" stroke-width="2.5" stroke-opacity="0.75"/><circle cx="372.59" cy="397.19" r="15.1" fill="#460b5e" fill-opacity="0.75"/><circle cx="372.59" cy="397.19" r="13.85" fill="none" stroke="#460b5e" stroke-width="2.5" stroke-opacity="0.75"/><circle cx="406.39" cy="397.19" r="15.1" fill="#460b5e" fill-opacity="0.75"/><circle cx="406.39" cy="397.19" r="13.85" fill="none" stroke="#460b5e" stroke-width="2.5" stroke-opacity="0.75"/><circle cx="440.19" cy="397.19" r="15.1" fill="#460b5e" fill-opacity="0.75"/><circle cx="440.19" cy="397.19" r="13.85" fill="none" stroke="#460b5e" stroke-width="2.5" stroke-opacity="0.75"/><circle cx="473.99" cy="397.19" r="15.1" fill="#46085c" fill-opacity="0.75"/><circle cx="473.99" cy="397.19" r="13.85" fill="none" stroke="#46085c" stroke-width="2.5" stroke-opacity="0.75"/><circle cx="507.79" cy="397.19" r="15.1" fill="#46085c" fill-opacity="0.75"/><circle cx="507.79" cy="397.19" r="13.85" fill="none" stroke="#46085c" stroke-width="2.5" stroke-opacity="0.75"/><circle cx="541.59" cy="397.19" r="15.1" fill="#46085c" fill-opacity="0.75"/><circle cx="541.59" cy="397.19" r="13.85" fill="none" stroke="#46085c" stroke-width="2.5" stroke-opacity="0.75"/><circle cx="575.39" cy="397.19" r="15.1" fill="#46085c" fill-opacity="0.75"/><circle cx="575.39" cy="397.19" r="13.85" fill="none" stroke="#46085c" stroke-width="2.5" stroke-opacity="0.75"/><circle cx="609.19" cy="397.19" r="15.1" fill="#46085c" fill-opacity="0.75"/><circle cx="609.19" cy="397.19" r="13.85" fill="none" stroke="#46085c" stroke-width="2.5" stroke-opacity="0.75"/><circle cx="642.99" cy="397.19" r="15.1" fill="#471063" fill-opacity="0.75"/><circle cx="642.99" cy="397.19" r="13.85" fill="none" stroke="#471063" stroke-width="2.5" stroke-opacity="0.75"/><circle cx="676.79" cy="397.19" r="15.1" fill="#481d6f" fill-opacity="0.75"/><circle cx="676.79" cy="397.19" r="13.85" fill="none" stroke="#481d6f" stroke-width="2.5" stroke-opacity="0.75"/><circle cx="710.59" cy="397.19" r="15.1" fill="#463480" fill-opacity="0.75"/><circle cx="710.59" cy="397.19" r="13.85" fill="none" stroke="#463480" stroke-width="2.5" stroke-opacity="0.75"/><circle cx="744.39" cy="397.19" r="15.1" fill="#3c4f8a" fill-opacity="0.75"/><circle cx="744.39" cy="397.19" r="13.85" fill="none" stroke="#3c4f8a" stroke-width="2.5" stroke-opacity="0.75"/><circle cx="778.19" cy="397.19" r="15.1" fill="#287d8e" fill-opacity="0.75"/><circle cx="778.19" cy="397.19" r="13.85" fill="none" stroke="#287d8e" stroke-width="2.5" stroke-opacity="0.75"/><circle cx="135.99" cy="364.50" r="15.1" fill="#3e4989" fill-opacity="0.75"/><circle cx="135.99" cy="364.50" r="13.85" fill="none" stroke="#3e4989" stroke-width="2.5" stroke-opacity="0.75"/><circle cx="169.79" cy="364.50" r="15.1" fill="#46307e" fill-opacity="0.75"/><circle cx="169.79" cy="364.50" r="13.85" fill="none" stroke="#46307e" stroke-width="2.5" stroke-opacity="0.75"/><circle cx="203.59" cy="364.50" r="15.1" fill="#481a6c" fill-opacity="0.75"/><circle cx="203.59" cy="364.50" r="13.85" fill="none" stroke="#481a6c" stroke-width="2.5" stroke-opacity="0.75"/><circle cx="237.39" cy="364.50" r="15.1" fill="#471365" fill-opacity="0.75"/><circle cx="237.39" cy="364.50" r="13.85" fill="none" stroke="#471365" stroke-width="2.5" stroke-opacity="0.75"/><circle cx="271.19" cy="364.50" r="15.1" fill="#471063" fill-opacity="0.75"/><circle cx="271.19" cy="364.50" r="13.85" fill="none" stroke="#471063" stroke-width="2.5" stroke-opacity="0.75"/><circle cx="304.99" cy="364.50" r="15.1" fill="#460b5e" fill-opacity="0.75"/><circle cx="304.99" cy="364.50" r="13.85" fill="none" stroke="#460b5e" stroke-width="2.5" stroke-opacity="0.75"/><circle cx="338.79" cy="364.50" r="15.1" fill="#460b5e" fill-opacity="0.75"/><circle cx="338.79" cy="364.50" r="13.85" fill="none" stroke="#460b5e" stroke-width="2.5" stroke-opacity="0.75"/><circle cx="372.59" cy="364.50" r="15.1" fill="#460b5e" fill-opacity="0.75"/><circle cx="372.59" cy="364.50" r="13.85" fill="none" stroke="#460b5e" stroke-width="2.5" stroke-opacity="0.75"/><circle cx="406.39" cy="364.50" r="15.1" fill="#460b5e" fill-opacity="0.75"/><circle cx="406.39" cy="364.50" r="13.85" fill="none" stroke="#460b5e" stroke-width="2.5" stroke-opacity="0.75"/><circle cx="440.19" cy="364.50" r="15.1" fill="#460b5e" fill-opacity="0.75"/><circle cx="440.19" cy="364.50" r="13.85" fill="none" stroke="#460b5e" stroke-width="2.5" stroke-opacity="0.75"/><circle cx="473.99" cy="364.50" r="15.1" fill="#46085c" fill-opacity="0.75"/><circle cx="473.99" cy="364.50" r="13.85" fill="none" stroke="#46085c" stroke-width="2.5" stroke-opacity="0.75"/><circle cx="507.79" cy="364.50" r="15.1" fill="#46085c" fill-opacity="0.75"/><circle cx="507.79" cy="364.50" r="13.85" fill="none" stroke="#46085c" stroke-width="2.5" stroke-opacity="0.75"/><circle cx="541.59" cy="364.50" r="15.1" fill="#46085c" fill-opacity="0.75"/><circle cx="541.59" cy="364.50" r="13.85" fill="none" stroke="#46085c" stroke-width="2.5" stroke-opacity="0.75"/><circle cx="575.39" cy="364.50" r="15.1" fill="#46085c" fill-opacity="0.75"/><circle cx="575.39" cy="364.50" r="13.85" fill="none" stroke="#46085c" stroke-width="2.5" stroke-opacity="0.75"/><circle cx="609.19" cy="364.50" r="15.1" fill="#460b5e" fill-opacity="0.75"/><circle cx="609.19" cy="364.50" r="13.85" fill="none" stroke="#460b5e" stroke-width="2.5" stroke-opacity="0.75"/><circle cx="642.99" cy="364.50" r="15.1" fill="#471063" fill-opacity="0.75"/><circle cx="642.99" cy="364.50" r="13.85" fill="none" stroke="#471063" stroke-width="2.5" stroke-opacity="0.75"/><circle cx="676.79" cy="364.50" r="15.1" fill="#481d6f" fill-opacity="0.75"/><circle cx="676.79" cy="364.50" r="13.85" fill="none" stroke="#481d6f" stroke-width="2.5" stroke-opacity="0.75"/><circle cx="710.59" cy="364.50" r="15.1" fill="#453781" fill-opacity="0.75"/><circle cx="710.59" cy="364.50" r="13.85" fill="none" stroke="#453781" stroke-width="2.5" stroke-opacity="0.75"/><circle cx="744.39" cy="364.50" r="15.1" fill="#3a548c" fill-opacity="0.75"/><circle cx="744.39" cy="364.50" r="13.85" fill="none" stroke="#3a548c" stroke-width="2.5" stroke-opacity="0.75"/><circle cx="778.19" cy="364.50" r="15.1" fill="#26828e" fill-opacity="0.75"/><circle cx="778.19" cy="364.50" r="13.85" fill="none" stroke="#26828e" stroke-width="2.5" stroke-opacity="0.75"/><circle cx="135.99" cy="331.82" r="15.1" fill="#3b528b" fill-opacity="0.75"/><circle cx="135.99" cy="331.82" r="13.85" fill="none" stroke="#3b528b" stroke-width="2.5" stroke-opacity="0.75"/><circle cx="169.79" cy="331.82" r="15.1" fill="#453781" fill-opacity="0.75"/><circle cx="169.79" cy="331.82" r="13.85" fill="none" stroke="#453781" stroke-width="2.5" stroke-opacity="0.75"/><circle cx="203.59" cy="331.82" r="15.1" fill="#482173" fill-opacity="0.75"/><circle cx="203.59" cy="331.82" r="13.85" fill="none" stroke="#482173" stroke-width="2.5" stroke-opacity="0.75"/><circle cx="237.39" cy="331.82" r="15.1" fill="#481769" fill-opacity="0.75"/><circle cx="237.39" cy="331.82" r="13.85" fill="none" stroke="#481769" stroke-width="2.5" stroke-opacity="0.75"/><circle cx="271.19" cy="331.82" r="15.1" fill="#471365" fill-opacity="0.75"/><circle cx="271.19" cy="331.82" r="13.85" fill="none" stroke="#471365" stroke-width="2.5" stroke-opacity="0.75"/><circle cx="304.99" cy="331.82" r="15.1" fill="#471063" fill-opacity="0.75"/><circle cx="304.99" cy="331.82" r="13.85" fill="none" stroke="#471063" stroke-width="2.5" stroke-opacity="0.75"/><circle cx="338.79" cy="331.82" r="15.1" fill="#471063" fill-opacity="0.75"/><circle cx="338.79" cy="331.82" r="13.85" fill="none" stroke="#471063" stroke-width="2.5" stroke-opacity="0.75"/><circle cx="372.59" cy="331.82" r="15.1" fill="#471063" fill-opacity="0.75"/><circle cx="372.59" cy="331.82" r="13.85" fill="none" stroke="#471063" stroke-width="2.5" stroke-opacity="0.75"/><circle cx="406.39" cy="331.82" r="15.1" fill="#471063" fill-opacity="0.75"/><circle cx="406.39" cy="331.82" r="13.85" fill="none" stroke="#471063" stroke-width="2.5" stroke-opacity="0.75"/><circle cx="440.19" cy="331.82" r="15.1" fill="#471063" fill-opacity="0.75"/><circle cx="440.19" cy="331.82" r="13.85" fill="none" stroke="#471063" stroke-width="2.5" stroke-opacity="0.75"/><circle cx="473.99" cy="331.82" r="15.1" fill="#460b5e" fill-opacity="0.75"/><circle cx="473.99" cy="331.82" r="13.85" fill="none" stroke="#460b5e" stroke-width="2.5" stroke-opacity="0.75"/><circle cx="507.79" cy="331.82" r="15.1" fill="#460b5e" fill-opacity="0.75"/><circle cx="507.79" cy="331.82" r="13.85" fill="none" stroke="#460b5e" stroke-width="2.5" stroke-opacity="0.75"/><circle cx="541.59" cy="331.82" r="15.1" fill="#460b5e" fill-opacity="0.75"/><circle cx="541.59" cy="331.82" r="13.85" fill="none" stroke="#460b5e" stroke-width="2.5" stroke-opacity="0.75"/><circle cx="575.39" cy="331.82" r="15.1" fill="#460b5e" fill-opacity="0.75"/><circle cx="575.39" cy="331.82" r="13.85" fill="none" stroke="#460b5e" stroke-width="2.5" stroke-opacity="0.75"/><circle cx="609.19" cy="331.82" r="15.1" fill="#460b5e" fill-opacity="0.75"/><circle cx="609.19" cy="331.82" r="13.85" fill="none" stroke="#460b5e" stroke-width="2.5" stroke-opacity="0.75"/><circle cx="642.99" cy="331.82" r="15.1" fill="#471365" fill-opacity="0.75"/><circle cx="642.99" cy="331.82" r="13.85" fill="none" stroke="#471365" stroke-width="2.5" stroke-opacity="0.75"/><circle cx="676.79" cy="331.82" r="15.1" fill="#482173" fill-opacity="0.75"/><circle cx="676.79" cy="331.82" r="13.85" fill="none" stroke="#482173" stroke-width="2.5" stroke-opacity="0.75"/><circle cx="710.59" cy="331.82" r="15.1" fill="#443a83" fill-opacity="0.75"/><circle cx="710.59" cy="331.82" r="13.85" fill="none" stroke="#443a83" stroke-width="2.5" stroke-opacity="0.75"/><circle cx="744.39" cy="331.82" r="15.1" fill="#375a8c" fill-opacity="0.75"/><circle cx="744.39" cy="331.82" r="13.85" fill="none" stroke="#375a8c" stroke-width="2.5" stroke-opacity="0.75"/><circle cx="778.19" cy="331.82" r="15.1" fill="#25848e" fill-opacity="0.75"/><circle cx="778.19" cy="331.82" r="13.85" fill="none" stroke="#25848e" stroke-width="2.5" stroke-opacity="0.75"/><circle cx="135.99" cy="299.13" r="15.1" fill="#365d8d" fill-opacity="0.75"/><circle cx="135.99" cy="299.13" r="13.85" fill="none" stroke="#365d8d" stroke-width="2.5" stroke-opacity="0.75"/><circle cx="169.79" cy="299.13" r="15.1" fill="#433e85" fill-opacity="0.75"/><circle cx="169.79" cy="299.13" r="13.85" fill="none" stroke="#433e85" stroke-width="2.5" stroke-opacity="0.75"/><circle cx="203.59" cy="299.13" r="15.1" fill="#482878" fill-opacity="0.75"/><circle cx="203.59" cy="299.13" r="13.85" fill="none" stroke="#482878" stroke-width="2.5" stroke-opacity="0.75"/><circle cx="237.39" cy="299.13" r="15.1" fill="#481a6c" fill-opacity="0.75"/><circle cx="237.39" cy="299.13" r="13.85" fill="none" stroke="#481a6c" stroke-width="2.5" stroke-opacity="0.75"/><circle cx="271.19" cy="299.13" r="15.1" fill="#481769" fill-opacity="0.75"/><circle cx="271.19" cy="299.13" r="13.85" fill="none" stroke="#481769" stroke-width="2.5" stroke-opacity="0.75"/><circle cx="304.99" cy="299.13" r="15.1" fill="#481769" fill-opacity="0.75"/><circle cx="304.99" cy="299.13" r="13.85" fill="none" stroke="#481769" stroke-width="2.5" stroke-opacity="0.75"/><circle cx="338.79" cy="299.13" r="15.1" fill="#481769" fill-opacity="0.75"/><circle cx="338.79" cy="299.13" r="13.85" fill="none" stroke="#481769" stroke-width="2.5" stroke-opacity="0.75"/><circle cx="372.59" cy="299.13" r="15.1" fill="#481769" fill-opacity="0.75"/><circle cx="372.59" cy="299.13" r="13.85" fill="none" stroke="#481769" stroke-width="2.5" stroke-opacity="0.75"/><circle cx="406.39" cy="299.13" r="15.1" fill="#471365" fill-opacity="0.75"/><circle cx="406.39" cy="299.13" r="13.85" fill="none" stroke="#471365" stroke-width="2.5" stroke-opacity="0.75"/><circle cx="440.19" cy="299.13" r="15.1" fill="#471365" fill-opacity="0.75"/><circle cx="440.19" cy="299.13" r="13.85" fill="none" stroke="#471365" stroke-width="2.5" stroke-opacity="0.75"/><circle cx="473.99" cy="299.13" r="15.1" fill="#471063" fill-opacity="0.75"/><circle cx="473.99" cy="299.13" r="13.85" fill="none" stroke="#471063" stroke-width="2.5" stroke-opacity="0.75"/><circle cx="507.79" cy="299.13" r="15.1" fill="#471063" fill-opacity="0.75"/><circle cx="507.79" cy="299.13" r="13.85" fill="none" stroke="#471063" stroke-width="2.5" stroke-opacity="0.75"/><circle cx="541.59" cy="299.13" r="15.1" fill="#471063" fill-opacity="0.75"/><circle cx="541.59" cy="299.13" r="13.85" fill="none" stroke="#471063" stroke-width="2.5" stroke-opacity="0.75"/><circle cx="575.39" cy="299.13" r="15.1" fill="#471063" fill-opacity="0.75"/><circle cx="575.39" cy="299.13" r="13.85" fill="none" stroke="#471063" stroke-width="2.5" stroke-opacity="0.75"/><circle cx="609.19" cy="299.13" r="15.1" fill="#471063" fill-opacity="0.75"/><circle cx="609.19" cy="299.13" r="13.85" fill="none" stroke="#471063" stroke-width="2.5" stroke-opacity="0.75"/><circle cx="642.99" cy="299.13" r="15.1" fill="#471365" fill-opacity="0.75"/><circle cx="642.99" cy="299.13" r="13.85" fill="none" stroke="#471365" stroke-width="2.5" stroke-opacity="0.75"/><circle cx="676.79" cy="299.13" r="15.1" fill="#482475" fill-opacity="0.75"/><circle cx="676.79" cy="299.13" r="13.85" fill="none" stroke="#482475" stroke-width="2.5" stroke-opacity="0.75"/><circle cx="710.59" cy="299.13" r="15.1" fill="#433e85" fill-opacity="0.75"/><circle cx="710.59" cy="299.13" r="13.85" fill="none" stroke="#433e85" stroke-width="2.5" stroke-opacity="0.75"/><circle cx="744.39" cy="299.13" r="15.1" fill="#355f8d" fill-opacity="0.75"/><circle cx="744.39" cy="299.13" r="13.85" fill="none" stroke="#355f8d" stroke-width="2.5" stroke-opacity="0.75"/><circle cx="778.19" cy="299.13" r="15.1" fill="#23898e" fill-opacity="0.75"/><circle cx="778.19" cy="299.13" r="13.85" fill="none" stroke="#23898e" stroke-width="2.5" stroke-opacity="0.75"/><circle cx="135.99" cy="266.45" r="15.1" fill="#31678e" fill-opacity="0.75"/><circle cx="135.99" cy="266.45" r="13.85" fill="none" stroke="#31678e" stroke-width="2.5" stroke-opacity="0.75"/><circle cx="169.79" cy="266.45" r="15.1" fill="#414487" fill-opacity="0.75"/><circle cx="169.79" cy="266.45" r="13.85" fill="none" stroke="#414487" stroke-width="2.5" stroke-opacity="0.75"/><circle cx="203.59" cy="266.45" r="15.1" fill="#46307e" fill-opacity="0.75"/><circle cx="203.59" cy="266.45" r="13.85" fill="none" stroke="#46307e" stroke-width="2.5" stroke-opacity="0.75"/><circle cx="237.39" cy="266.45" r="15.1" fill="#482475" fill-opacity="0.75"/><circle cx="237.39" cy="266.45" r="13.85" fill="none" stroke="#482475" stroke-width="2.5" stroke-opacity="0.75"/><circle cx="271.19" cy="266.45" r="15.1" fill="#481d6f" fill-opacity="0.75"/><circle cx="271.19" cy="266.45" r="13.85" fill="none" stroke="#481d6f" stroke-width="2.5" stroke-opacity="0.75"/><circle cx="304.99" cy="266.45" r="15.1" fill="#481d6f" fill-opacity="0.75"/><circle cx="304.99" cy="266.45" r="13.85" fill="none" stroke="#481d6f" stroke-width="2.5" stroke-opacity="0.75"/><circle cx="338.79" cy="266.45" r="15.1" fill="#481d6f" fill-opacity="0.75"/><circle cx="338.79" cy="266.45" r="13.85" fill="none" stroke="#481d6f" stroke-width="2.5" stroke-opacity="0.75"/><circle cx="372.59" cy="266.45" r="15.1" fill="#481d6f" fill-opacity="0.75"/><circle cx="372.59" cy="266.45" r="13.85" fill="none" stroke="#481d6f" stroke-width="2.5" stroke-opacity="0.75"/><circle cx="406.39" cy="266.45" r="15.1" fill="#481a6c" fill-opacity="0.75"/><circle cx="406.39" cy="266.45" r="13.85" fill="none" stroke="#481a6c" stroke-width="2.5" stroke-opacity="0.75"/><circle cx="440.19" cy="266.45" r="15.1" fill="#481a6c" fill-opacity="0.75"/><circle cx="440.19" cy="266.45" r="13.85" fill="none" stroke="#481a6c" stroke-width="2.5" stroke-opacity="0.75"/><circle cx="473.99" cy="266.45" r="15.1" fill="#471365" fill-opacity="0.75"/><circle cx="473.99" cy="266.45" r="13.85" fill="none" stroke="#471365" stroke-width="2.5" stroke-opacity="0.75"/><circle cx="507.79" cy="266.45" r="15.1" fill="#471365" fill-opacity="0.75"/><circle cx="507.79" cy="266.45" r="13.85" fill="none" stroke="#471365" stroke-width="2.5" stroke-opacity="0.75"/><circle cx="541.59" cy="266.45" r="15.1" fill="#471365" fill-opacity="0.75"/><circle cx="541.59" cy="266.45" r="13.85" fill="none" stroke="#471365" stroke-width="2.5" stroke-opacity="0.75"/><circle cx="575.39" cy="266.45" r="15.1" fill="#471365" fill-opacity="0.75"/><circle cx="575.39" cy="266.45" r="13.85" fill="none" stroke="#471365" stroke-width="2.5" stroke-opacity="0.75"/><circle cx="609.19" cy="266.45" r="15.1" fill="#471365" fill-opacity="0.75"/><circle cx="609.19" cy="266.45" r="13.85" fill="none" stroke="#471365" stroke-width="2.5" stroke-opacity="0.75"/><circle cx="642.99" cy="266.45" r="15.1" fill="#481a6c" fill-opacity="0.75"/><circle cx="642.99" cy="266.45" r="13.85" fill="none" stroke="#481a6c" stroke-width="2.5" stroke-opacity="0.75"/><circle cx="676.79" cy="266.45" r="15.1" fill="#472a7a" fill-opacity="0.75"/><circle cx="676.79" cy="266.45" r="13.85" fill="none" stroke="#472a7a" stroke-width="2.5" stroke-opacity="0.75"/><circle cx="710.59" cy="266.45" r="15.1" fill="#414487" fill-opacity="0.75"/><circle cx="710.59" cy="266.45" r="13.85" fill="none" stroke="#414487" stroke-width="2.5" stroke-opacity="0.75"/><circle cx="744.39" cy="266.45" r="15.1" fill="#33628d" fill-opacity="0.75"/><circle cx="744.39" cy="266.45" r="13.85" fill="none" stroke="#33628d" stroke-width="2.5" stroke-opacity="0.75"/><circle cx="778.19" cy="266.45" r="15.1" fill="#21918c" fill-opacity="0.75"/><circle cx="778.19" cy="266.45" r="13.85" fill="none" stroke="#21918c" stroke-width="2.5" stroke-opacity="0.75"/><circle cx="135.99" cy="233.76" r="15.1" fill="#2c738e" fill-opacity="0.75"/><circle cx="135.99" cy="233.76" r="13.85" fill="none" stroke="#2c738e" stroke-width="2.5" stroke-opacity="0.75"/><circle cx="169.79" cy="233.76" r="15.1" fill="#355f8d" fill-opacity="0.75"/><circle cx="169.79" cy="233.76" r="13.85" fill="none" stroke="#355f8d" stroke-width="2.5" stroke-opacity="0.75"/><circle cx="203.59" cy="233.76" r="15.1" fill="#404688" fill-opacity="0.75"/><circle cx="203.59" cy="233.76" r="13.85" fill="none" stroke="#404688" stroke-width="2.5" stroke-opacity="0.75"/><circle cx="237.39" cy="233.76" r="15.1" fill="#463480" fill-opacity="0.75"/><circle cx="237.39" cy="233.76" r="13.85" fill="none" stroke="#463480" stroke-width="2.5" stroke-opacity="0.75"/><circle cx="271.19" cy="233.76" r="15.1" fill="#482878" fill-opacity="0.75"/><circle cx="271.19" cy="233.76" r="13.85" fill="none" stroke="#482878" stroke-width="2.5" stroke-opacity="0.75"/><circle cx="304.99" cy="233.76" r="15.1" fill="#482173" fill-opacity="0.75"/><circle cx="304.99" cy="233.76" r="13.85" fill="none" stroke="#482173" stroke-width="2.5" stroke-opacity="0.75"/><circle cx="338.79" cy="233.76" r="15.1" fill="#481d6f" fill-opacity="0.75"/><circle cx="338.79" cy="233.76" r="13.85" fill="none" stroke="#481d6f" stroke-width="2.5" stroke-opacity="0.75"/><circle cx="372.59" cy="233.76" r="15.1" fill="#481d6f" fill-opacity="0.75"/><circle cx="372.59" cy="233.76" r="13.85" fill="none" stroke="#481d6f" stroke-width="2.5" stroke-opacity="0.75"/><circle cx="406.39" cy="233.76" r="15.1" fill="#481d6f" fill-opacity="0.75"/><circle cx="406.39" cy="233.76" r="13.85" fill="none" stroke="#481d6f" stroke-width="2.5" stroke-opacity="0.75"/><circle cx="440.19" cy="233.76" r="15.1" fill="#481a6c" fill-opacity="0.75"/><circle cx="440.19" cy="233.76" r="13.85" fill="none" stroke="#481a6c" stroke-width="2.5" stroke-opacity="0.75"/><circle cx="473.99" cy="233.76" r="15.1" fill="#481769" fill-opacity="0.75"/><circle cx="473.99" cy="233.76" r="13.85" fill="none" stroke="#481769" stroke-width="2.5" stroke-opacity="0.75"/><circle cx="507.79" cy="233.76" r="15.1" fill="#481769" fill-opacity="0.75"/><circle cx="507.79" cy="233.76" r="13.85" fill="none" stroke="#481769" stroke-width="2.5" stroke-opacity="0.75"/><circle cx="541.59" cy="233.76" r="15.1" fill="#481769" fill-opacity="0.75"/><circle cx="541.59" cy="233.76" r="13.85" fill="none" stroke="#481769" stroke-width="2.5" stroke-opacity="0.75"/><circle cx="575.39" cy="233.76" r="15.1" fill="#481769" fill-opacity="0.75"/><circle cx="575.39" cy="233.76" r="13.85" fill="none" stroke="#481769" stroke-width="2.5" stroke-opacity="0.75"/><circle cx="609.19" cy="233.76" r="15.1" fill="#481a6c" fill-opacity="0.75"/><circle cx="609.19" cy="233.76" r="13.85" fill="none" stroke="#481a6c" stroke-width="2.5" stroke-opacity="0.75"/><circle cx="642.99" cy="233.76" r="15.1" fill="#482475" fill-opacity="0.75"/><circle cx="642.99" cy="233.76" r="13.85" fill="none" stroke="#482475" stroke-width="2.5" stroke-opacity="0.75"/><circle cx="676.79" cy="233.76" r="15.1" fill="#46307e" fill-opacity="0.75"/><circle cx="676.79" cy="233.76" r="13.85" fill="none" stroke="#46307e" stroke-width="2.5" stroke-opacity="0.75"/><circle cx="710.59" cy="233.76" r="15.1" fill="#3e4989" fill-opacity="0.75"/><circle cx="710.59" cy="233.76" r="13.85" fill="none" stroke="#3e4989" stroke-width="2.5" stroke-opacity="0.75"/><circle cx="744.39" cy="233.76" r="15.1" fill="#31678e" fill-opacity="0.75"/><circle cx="744.39" cy="233.76" r="13.85" fill="none" stroke="#31678e" stroke-width="2.5" stroke-opacity="0.75"/><circle cx="778.19" cy="233.76" r="15.1" fill="#1f958b" fill-opacity="0.75"/><circle cx="778.19" cy="233.76" r="13.85" fill="none" stroke="#1f958b" stroke-width="2.5" stroke-opacity="0.75"/><circle cx="135.99" cy="201.08" r="15.1" fill="#23898e" fill-opacity="0.75"/><circle cx="135.99" cy="201.08" r="13.85" fill="none" stroke="#23898e" stroke-width="2.5" stroke-opacity="0.75"/><circle cx="169.79" cy="201.08" r="15.1" fill="#2d718e" fill-opacity="0.75"/><circle cx="169.79" cy="201.08" r="13.85" fill="none" stroke="#2d718e" stroke-width="2.5" stroke-opacity="0.75"/><circle cx="203.59" cy="201.08" r="15.1" fill="#365d8d" fill-opacity="0.75"/><circle cx="203.59" cy="201.08" r="13.85" fill="none" stroke="#365d8d" stroke-width="2.5" stroke-opacity="0.75"/><circle cx="237.39" cy="201.08" r="15.1" fill="#3e4989" fill-opacity="0.75"/><circle cx="237.39" cy="201.08" r="13.85" fill="none" stroke="#3e4989" stroke-width="2.5" stroke-opacity="0.75"/><circle cx="271.19" cy="201.08" r="15.1" fill="#443a83" fill-opacity="0.75"/><circle cx="271.19" cy="201.08" r="13.85" fill="none" stroke="#443a83" stroke-width="2.5" stroke-opacity="0.75"/><circle cx="304.99" cy="201.08" r="15.1" fill="#463480" fill-opacity="0.75"/><circle cx="304.99" cy="201.08" r="13.85" fill="none" stroke="#463480" stroke-width="2.5" stroke-opacity="0.75"/><circle cx="338.79" cy="201.08" r="15.1" fill="#46307e" fill-opacity="0.75"/><circle cx="338.79" cy="201.08" r="13.85" fill="none" stroke="#46307e" stroke-width="2.5" stroke-opacity="0.75"/><circle cx="372.59" cy="201.08" r="15.1" fill="#472e7c" fill-opacity="0.75"/><circle cx="372.59" cy="201.08" r="13.85" fill="none" stroke="#472e7c" stroke-width="2.5" stroke-opacity="0.75"/><circle cx="406.39" cy="201.08" r="15.1" fill="#472a7a" fill-opacity="0.75"/><circle cx="406.39" cy="201.08" r="13.85" fill="none" stroke="#472a7a" stroke-width="2.5" stroke-opacity="0.75"/><circle cx="440.19" cy="201.08" r="15.1" fill="#472a7a" fill-opacity="0.75"/><circle cx="440.19" cy="201.08" r="13.85" fill="none" stroke="#472a7a" stroke-width="2.5" stroke-opacity="0.75"/><circle cx="473.99" cy="201.08" r="15.1" fill="#482878" fill-opacity="0.75"/><circle cx="473.99" cy="201.08" r="13.85" fill="none" stroke="#482878" stroke-width="2.5" stroke-opacity="0.75"/><circle cx="507.79" cy="201.08" r="15.1" fill="#482878" fill-opacity="0.75"/><circle cx="507.79" cy="201.08" r="13.85" fill="none" stroke="#482878" stroke-width="2.5" stroke-opacity="0.75"/><circle cx="541.59" cy="201.08" r="15.1" fill="#482878" fill-opacity="0.75"/><circle cx="541.59" cy="201.08" r="13.85" fill="none" stroke="#482878" stroke-width="2.5" stroke-opacity="0.75"/><circle cx="575.39" cy="201.08" r="15.1" fill="#482878" fill-opacity="0.75"/><circle cx="575.39" cy="201.08" r="13.85" fill="none" stroke="#482878" stroke-width="2.5" stroke-opacity="0.75"/><circle cx="609.19" cy="201.08" r="15.1" fill="#472a7a" fill-opacity="0.75"/><circle cx="609.19" cy="201.08" r="13.85" fill="none" stroke="#472a7a" stroke-width="2.5" stroke-opacity="0.75"/><circle cx="642.99" cy="201.08" r="15.1" fill="#463480" fill-opacity="0.75"/><circle cx="642.99" cy="201.08" r="13.85" fill="none" stroke="#463480" stroke-width="2.5" stroke-opacity="0.75"/><circle cx="676.79" cy="201.08" r="15.1" fill="#414487" fill-opacity="0.75"/><circle cx="676.79" cy="201.08" r="13.85" fill="none" stroke="#414487" stroke-width="2.5" stroke-opacity="0.75"/><circle cx="710.59" cy="201.08" r="15.1" fill="#375a8c" fill-opacity="0.75"/><circle cx="710.59" cy="201.08" r="13.85" fill="none" stroke="#375a8c" stroke-width="2.5" stroke-opacity="0.75"/><circle cx="744.39" cy="201.08" r="15.1" fill="#2c738e" fill-opacity="0.75"/><circle cx="744.39" cy="201.08" r="13.85" fill="none" stroke="#2c738e" stroke-width="2.5" stroke-opacity="0.75"/><circle cx="778.19" cy="201.08" r="15.1" fill="#22a884" fill-opacity="0.75"/><circle cx="778.19" cy="201.08" r="13.85" fill="none" stroke="#22a884" stroke-width="2.5" stroke-opacity="0.75"/><circle cx="135.99" cy="168.39" r="15.1" fill="#22a884" fill-opacity="0.75"/><circle cx="135.99" cy="168.39" r="13.85" fill="none" stroke="#22a884" stroke-width="2.5" stroke-opacity="0.75"/><circle cx="169.79" cy="168.39" r="15.1" fill="#25848e" fill-opacity="0.75"/><circle cx="169.79" cy="168.39" r="13.85" fill="none" stroke="#25848e" stroke-width="2.5" stroke-opacity="0.75"/><circle cx="203.59" cy="168.39" r="15.1" fill="#2d718e" fill-opacity="0.75"/><circle cx="203.59" cy="168.39" r="13.85" fill="none" stroke="#2d718e" stroke-width="2.5" stroke-opacity="0.75"/><circle cx="237.39" cy="168.39" r="15.1" fill="#33628d" fill-opacity="0.75"/><circle cx="237.39" cy="168.39" r="13.85" fill="none" stroke="#33628d" stroke-width="2.5" stroke-opacity="0.75"/><circle cx="271.19" cy="168.39" r="15.1" fill="#3a548c" fill-opacity="0.75"/><circle cx="271.19" cy="168.39" r="13.85" fill="none" stroke="#3a548c" stroke-width="2.5" stroke-opacity="0.75"/><circle cx="304.99" cy="168.39" r="15.1" fill="#3c4f8a" fill-opacity="0.75"/><circle cx="304.99" cy="168.39" r="13.85" fill="none" stroke="#3c4f8a" stroke-width="2.5" stroke-opacity="0.75"/><circle cx="338.79" cy="168.39" r="15.1" fill="#3e4c8a" fill-opacity="0.75"/><circle cx="338.79" cy="168.39" r="13.85" fill="none" stroke="#3e4c8a" stroke-width="2.5" stroke-opacity="0.75"/><circle cx="372.59" cy="168.39" r="15.1" fill="#404688" fill-opacity="0.75"/><circle cx="372.59" cy="168.39" r="13.85" fill="none" stroke="#404688" stroke-width="2.5" stroke-opacity="0.75"/><circle cx="406.39" cy="168.39" r="15.1" fill="#414487" fill-opacity="0.75"/><circle cx="406.39" cy="168.39" r="13.85" fill="none" stroke="#414487" stroke-width="2.5" stroke-opacity="0.75"/><circle cx="440.19" cy="168.39" r="15.1" fill="#424086" fill-opacity="0.75"/><circle cx="440.19" cy="168.39" r="13.85" fill="none" stroke="#424086" stroke-width="2.5" stroke-opacity="0.75"/><circle cx="473.99" cy="168.39" r="15.1" fill="#433e85" fill-opacity="0.75"/><circle cx="473.99" cy="168.39" r="13.85" fill="none" stroke="#433e85" stroke-width="2.5" stroke-opacity="0.75"/><circle cx="507.79" cy="168.39" r="15.1" fill="#433e85" fill-opacity="0.75"/><circle cx="507.79" cy="168.39" r="13.85" fill="none" stroke="#433e85" stroke-width="2.5" stroke-opacity="0.75"/><circle cx="541.59" cy="168.39" r="15.1" fill="#433e85" fill-opacity="0.75"/><circle cx="541.59" cy="168.39" r="13.85" fill="none" stroke="#433e85" stroke-width="2.5" stroke-opacity="0.75"/><circle cx="575.39" cy="168.39" r="15.1" fill="#424086" fill-opacity="0.75"/><circle cx="575.39" cy="168.39" r="13.85" fill="none" stroke="#424086" stroke-width="2.5" stroke-opacity="0.75"/><circle cx="609.19" cy="168.39" r="15.1" fill="#414487" fill-opacity="0.75"/><circle cx="609.19" cy="168.39" r="13.85" fill="none" stroke="#414487" stroke-width="2.5" stroke-opacity="0.75"/><circle cx="642.99" cy="168.39" r="15.1" fill="#3e4c8a" fill-opacity="0.75"/><circle cx="642.99" cy="168.39" r="13.85" fill="none" stroke="#3e4c8a" stroke-width="2.5" stroke-opacity="0.75"/><circle cx="676.79" cy="168.39" r="15.1" fill="#375a8c" fill-opacity="0.75"/><circle cx="676.79" cy="168.39" r="13.85" fill="none" stroke="#375a8c" stroke-width="2.5" stroke-opacity="0.75"/><circle cx="710.59" cy="168.39" r="15.1" fill="#2d718e" fill-opacity="0.75"/><circle cx="710.59" cy="168.39" r="13.85" fill="none" stroke="#2d718e" stroke-width="2.5" stroke-opacity="0.75"/><circle cx="744.39" cy="168.39" r="15.1" fill="#23898e" fill-opacity="0.75"/><circle cx="744.39" cy="168.39" r="13.85" fill="none" stroke="#23898e" stroke-width="2.5" stroke-opacity="0.75"/><circle cx="778.19" cy="168.39" r="15.1" fill="#58c765" fill-opacity="0.75"/><circle cx="778.19" cy="168.39" r="13.85" fill="none" stroke="#58c765" stroke-width="2.5" stroke-opacity="0.75"/><circle cx="135.99" cy="135.71" r="15.1" fill="#58c765" fill-opacity="0.75"/><circle cx="135.99" cy="135.71" r="13.85" fill="none" stroke="#58c765" stroke-width="2.5" stroke-opacity="0.75"/><circle cx="169.79" cy="135.71" r="15.1" fill="#1fa188" fill-opacity="0.75"/><circle cx="169.79" cy="135.71" r="13.85" fill="none" stroke="#1fa188" stroke-width="2.5" stroke-opacity="0.75"/><circle cx="203.59" cy="135.71" r="15.1" fill="#23898e" fill-opacity="0.75"/><circle cx="203.59" cy="135.71" r="13.85" fill="none" stroke="#23898e" stroke-width="2.5" stroke-opacity="0.75"/><circle cx="237.39" cy="135.71" r="15.1" fill="#297a8e" fill-opacity="0.75"/><circle cx="237.39" cy="135.71" r="13.85" fill="none" stroke="#297a8e" stroke-width="2.5" stroke-opacity="0.75"/><circle cx="271.19" cy="135.71" r="15.1" fill="#2d718e" fill-opacity="0.75"/><circle cx="271.19" cy="135.71" r="13.85" fill="none" stroke="#2d718e" stroke-width="2.5" stroke-opacity="0.75"/><circle cx="304.99" cy="135.71" r="15.1" fill="#31678e" fill-opacity="0.75"/><circle cx="304.99" cy="135.71" r="13.85" fill="none" stroke="#31678e" stroke-width="2.5" stroke-opacity="0.75"/><circle cx="338.79" cy="135.71" r="15.1" fill="#33628d" fill-opacity="0.75"/><circle cx="338.79" cy="135.71" r="13.85" fill="none" stroke="#33628d" stroke-width="2.5" stroke-opacity="0.75"/><circle cx="372.59" cy="135.71" r="15.1" fill="#365d8d" fill-opacity="0.75"/><circle cx="372.59" cy="135.71" r="13.85" fill="none" stroke="#365d8d" stroke-width="2.5" stroke-opacity="0.75"/><circle cx="406.39" cy="135.71" r="15.1" fill="#375a8c" fill-opacity="0.75"/><circle cx="406.39" cy="135.71" r="13.85" fill="none" stroke="#375a8c" stroke-width="2.5" stroke-opacity="0.75"/><circle cx="440.19" cy="135.71" r="15.1" fill="#38588c" fill-opacity="0.75"/><circle cx="440.19" cy="135.71" r="13.85" fill="none" stroke="#38588c" stroke-width="2.5" stroke-opacity="0.75"/><circle cx="473.99" cy="135.71" r="15.1" fill="#38588c" fill-opacity="0.75"/><circle cx="473.99" cy="135.71" r="13.85" fill="none" stroke="#38588c" stroke-width="2.5" stroke-opacity="0.75"/><circle cx="507.79" cy="135.71" r="15.1" fill="#38588c" fill-opacity="0.75"/><circle cx="507.79" cy="135.71" r="13.85" fill="none" stroke="#38588c" stroke-width="2.5" stroke-opacity="0.75"/><circle cx="541.59" cy="135.71" r="15.1" fill="#38588c" fill-opacity="0.75"/><circle cx="541.59" cy="135.71" r="13.85" fill="none" stroke="#38588c" stroke-width="2.5" stroke-opacity="0.75"/><circle cx="575.39" cy="135.71" r="15.1" fill="#375a8c" fill-opacity="0.75"/><circle cx="575.39" cy="135.71" r="13.85" fill="none" stroke="#375a8c" stroke-width="2.5" stroke-opacity="0.75"/><circle cx="609.19" cy="135.71" r="15.1" fill="#355f8d" fill-opacity="0.75"/><circle cx="609.19" cy="135.71" r="13.85" fill="none" stroke="#355f8d" stroke-width="2.5" stroke-opacity="0.75"/><circle cx="642.99" cy="135.71" r="15.1" fill="#33628d" fill-opacity="0.75"/><circle cx="642.99" cy="135.71" r="13.85" fill="none" stroke="#33628d" stroke-width="2.5" stroke-opacity="0.75"/><circle cx="676.79" cy="135.71" r="15.1" fill="#2c738e" fill-opacity="0.75"/><circle cx="676.79" cy="135.71" r="13.85" fill="none" stroke="#2c738e" stroke-width="2.5" stroke-opacity="0.75"/><circle cx="710.59" cy="135.71" r="15.1" fill="#23898e" fill-opacity="0.75"/><circle cx="710.59" cy="135.71" r="13.85" fill="none" stroke="#23898e" stroke-width="2.5" stroke-opacity="0.75"/><circle cx="744.39" cy="135.71" r="15.1" fill="#22a884" fill-opacity="0.75"/><circle cx="744.39" cy="135.71" r="13.85" fill="none" stroke="#22a884" stroke-width="2.5" stroke-opacity="0.75"/><circle cx="778.19" cy="135.71" r="15.1" fill="#9bd93c" fill-opacity="0.75"/><circle cx="778.19" cy="135.71" r="13.85" fill="none" stroke="#9bd93c" stroke-width="2.5" stroke-opacity="0.75"/><circle cx="135.99" cy="103.02" r="15.1" fill="#bddf26" fill-opacity="0.75"/><circle cx="135.99" cy="103.02" r="13.85" fill="none" stroke="#bddf26" stroke-width="2.5" stroke-opacity="0.75"/><circle cx="169.79" cy="103.02" r="15.1" fill="#63cb5f" fill-opacity="0.75"/><circle cx="169.79" cy="103.02" r="13.85" fill="none" stroke="#63cb5f" stroke-width="2.5" stroke-opacity="0.75"/><circle cx="203.59" cy="103.02" r="15.1" fill="#26ad81" fill-opacity="0.75"/><circle cx="203.59" cy="103.02" r="13.85" fill="none" stroke="#26ad81" stroke-width="2.5" stroke-opacity="0.75"/><circle cx="237.39" cy="103.02" r="15.1" fill="#1e9c89" fill-opacity="0.75"/><circle cx="237.39" cy="103.02" r="13.85" fill="none" stroke="#1e9c89" stroke-width="2.5" stroke-opacity="0.75"/><circle cx="271.19" cy="103.02" r="15.1" fill="#21918c" fill-opacity="0.75"/><circle cx="271.19" cy="103.02" r="13.85" fill="none" stroke="#21918c" stroke-width="2.5" stroke-opacity="0.75"/><circle cx="304.99" cy="103.02" r="15.1" fill="#26828e" fill-opacity="0.75"/><circle cx="304.99" cy="103.02" r="13.85" fill="none" stroke="#26828e" stroke-width="2.5" stroke-opacity="0.75"/><circle cx="338.79" cy="103.02" r="15.1" fill="#27808e" fill-opacity="0.75"/><circle cx="338.79" cy="103.02" r="13.85" fill="none" stroke="#27808e" stroke-width="2.5" stroke-opacity="0.75"/><circle cx="372.59" cy="103.02" r="15.1" fill="#297a8e" fill-opacity="0.75"/><circle cx="372.59" cy="103.02" r="13.85" fill="none" stroke="#297a8e" stroke-width="2.5" stroke-opacity="0.75"/><circle cx="406.39" cy="103.02" r="15.1" fill="#2b758e" fill-opacity="0.75"/><circle cx="406.39" cy="103.02" r="13.85" fill="none" stroke="#2b758e" stroke-width="2.5" stroke-opacity="0.75"/><circle cx="440.19" cy="103.02" r="15.1" fill="#2c738e" fill-opacity="0.75"/><circle cx="440.19" cy="103.02" r="13.85" fill="none" stroke="#2c738e" stroke-width="2.5" stroke-opacity="0.75"/><circle cx="473.99" cy="103.02" r="15.1" fill="#2c738e" fill-opacity="0.75"/><circle cx="473.99" cy="103.02" r="13.85" fill="none" stroke="#2c738e" stroke-width="2.5" stroke-opacity="0.75"/><circle cx="507.79" cy="103.02" r="15.1" fill="#2c738e" fill-opacity="0.75"/><circle cx="507.79" cy="103.02" r="13.85" fill="none" stroke="#2c738e" stroke-width="2.5" stroke-opacity="0.75"/><circle cx="541.59" cy="103.02" r="15.1" fill="#2c738e" fill-opacity="0.75"/><circle cx="541.59" cy="103.02" r="13.85" fill="none" stroke="#2c738e" stroke-width="2.5" stroke-opacity="0.75"/><circle cx="575.39" cy="103.02" r="15.1" fill="#2b758e" fill-opacity="0.75"/><circle cx="575.39" cy="103.02" r="13.85" fill="none" stroke="#2b758e" stroke-width="2.5" stroke-opacity="0.75"/><circle cx="609.19" cy="103.02" r="15.1" fill="#2a788e" fill-opacity="0.75"/><circle cx="609.19" cy="103.02" r="13.85" fill="none" stroke="#2a788e" stroke-width="2.5" stroke-opacity="0.75"/><circle cx="642.99" cy="103.02" r="15.1" fill="#27808e" fill-opacity="0.75"/><circle cx="642.99" cy="103.02" r="13.85" fill="none" stroke="#27808e" stroke-width="2.5" stroke-opacity="0.75"/><circle cx="676.79" cy="103.02" r="15.1" fill="#21918c" fill-opacity="0.75"/><circle cx="676.79" cy="103.02" r="13.85" fill="none" stroke="#21918c" stroke-width="2.5" stroke-opacity="0.75"/><circle cx="710.59" cy="103.02" r="15.1" fill="#22a884" fill-opacity="0.75"/><circle cx="710.59" cy="103.02" r="13.85" fill="none" stroke="#22a884" stroke-width="2.5" stroke-opacity="0.75"/><circle cx="744.39" cy="103.02" r="15.1" fill="#58c765" fill-opacity="0.75"/><circle cx="744.39" cy="103.02" r="13.85" fill="none" stroke="#58c765" stroke-width="2.5" stroke-opacity="0.75"/><circle cx="778.19" cy="103.02" r="15.1" fill="#fde725" fill-opacity="0.75"/><circle cx="778.19" cy="103.02" r="13.85" fill="none" stroke="#fde725" stroke-width="2.5" stroke-opacity="0.75"/><rect x="846" y="72" width="34" height="683" fill="url(#cb)" fill-opacity="0.75"/><g font-family="Liberation Sans, sans-serif" fill="#262626"><text transform="translate(70.06,757.83) scale(0.41121,0.42712)" font-size="100">0</text><text transform="translate(44.99,666.51) scale(0.42518,0.42712)" font-size="100">25</text><text transform="translate(45.57,575.18) scale(0.42624,0.42712)" font-size="100">50</text><text transform="translate(45.32,483.86) scale(0.42215,0.42579)" font-size="100">75</text><text transform="translate(20.44,392.53) scale(0.43495,0.42712)" font-size="100">100</text><text transform="translate(20.48,301.21) scale(0.43051,0.42712)" font-size="100">125</text><text transform="translate(20.44,209.88) scale(0.43495,0.42712)" font-size="100">150</text><text transform="translate(20.48,118.56) scale(0.43051,0.42579)" font-size="100">175</text><text transform="translate(113.06,795.53) scale(0.41121,0.42712)" font-size="100">0</text><text transform="translate(219.91,795.53) scale(0.42624,0.42712)" font-size="100">50</text><text transform="translate(326.11,795.53) scale(0.43495,0.42712)" font-size="100">100</text><text transform="translate(445.04,795.53) scale(0.43495,0.42712)" font-size="100">150</text><text transform="translate(563.64,795.53) scale(0.43693,0.42712)" font-size="100">200</text><text transform="translate(682.57,795.53) scale(0.43693,0.42712)" font-size="100">250</text><text transform="translate(890.06,693.33) scale(0.43919,0.42712)" font-size="100">0.004</text><text transform="translate(890.05,579.53) scale(0.44079,0.42712)" font-size="100">0.006</text><text transform="translate(890.06,465.73) scale(0.43980,0.42712)" font-size="100">0.008</text><text transform="translate(890.06,351.93) scale(0.43939,0.42712)" font-size="100">0.010</text><text transform="translate(890.07,238.13) scale(0.43590,0.42712)" font-size="100">0.012</text><text transform="translate(890.06,124.33) scale(0.43919,0.42712)" font-size="100">0.014</text></g><g font-family="Liberation Sans, sans-serif" fill="#262626"><text transform="translate(340.51,55.80) scale(0.44749,0.48692)" font-size="100" font-style="italic">V</text><text transform="translate(371.59,55.84) scale(0.45800,0.45803)" font-size="100" font-style="italic">a</text><text transform="translate(398.08,55.80) scale(0.54000,0.45725)" font-size="100" font-style="italic">r</text><text transform="translate(416.82,53.24) scale(0.44724,0.43087)" font-size="100">[</text><text transform="translate(434.28,56.00) scale(0.48347,0.46897)" font-size="100" font-style="italic">λ</text><text transform="translate(461.98,52.80) scale(0.35849,0.42489)" font-size="100">(</text><text transform="translate(477.16,55.84) scale(0.46849,0.46252)" font-size="100" font-style="italic">s</text><text transform="translate(504.47,52.80) scale(0.38113,0.42489)" font-size="100">)</text><text transform="translate(519.62,56.07) scale(0.46914,0.46852)" font-size="100">|</text><text transform="translate(531.33,55.80) scale(0.43018,0.48110)" font-size="100" font-style="italic">Y</text><text transform="translate(563.49,53.26) scale(0.50754,0.42980)" font-size="100">]</text></g></svg></body></html>
